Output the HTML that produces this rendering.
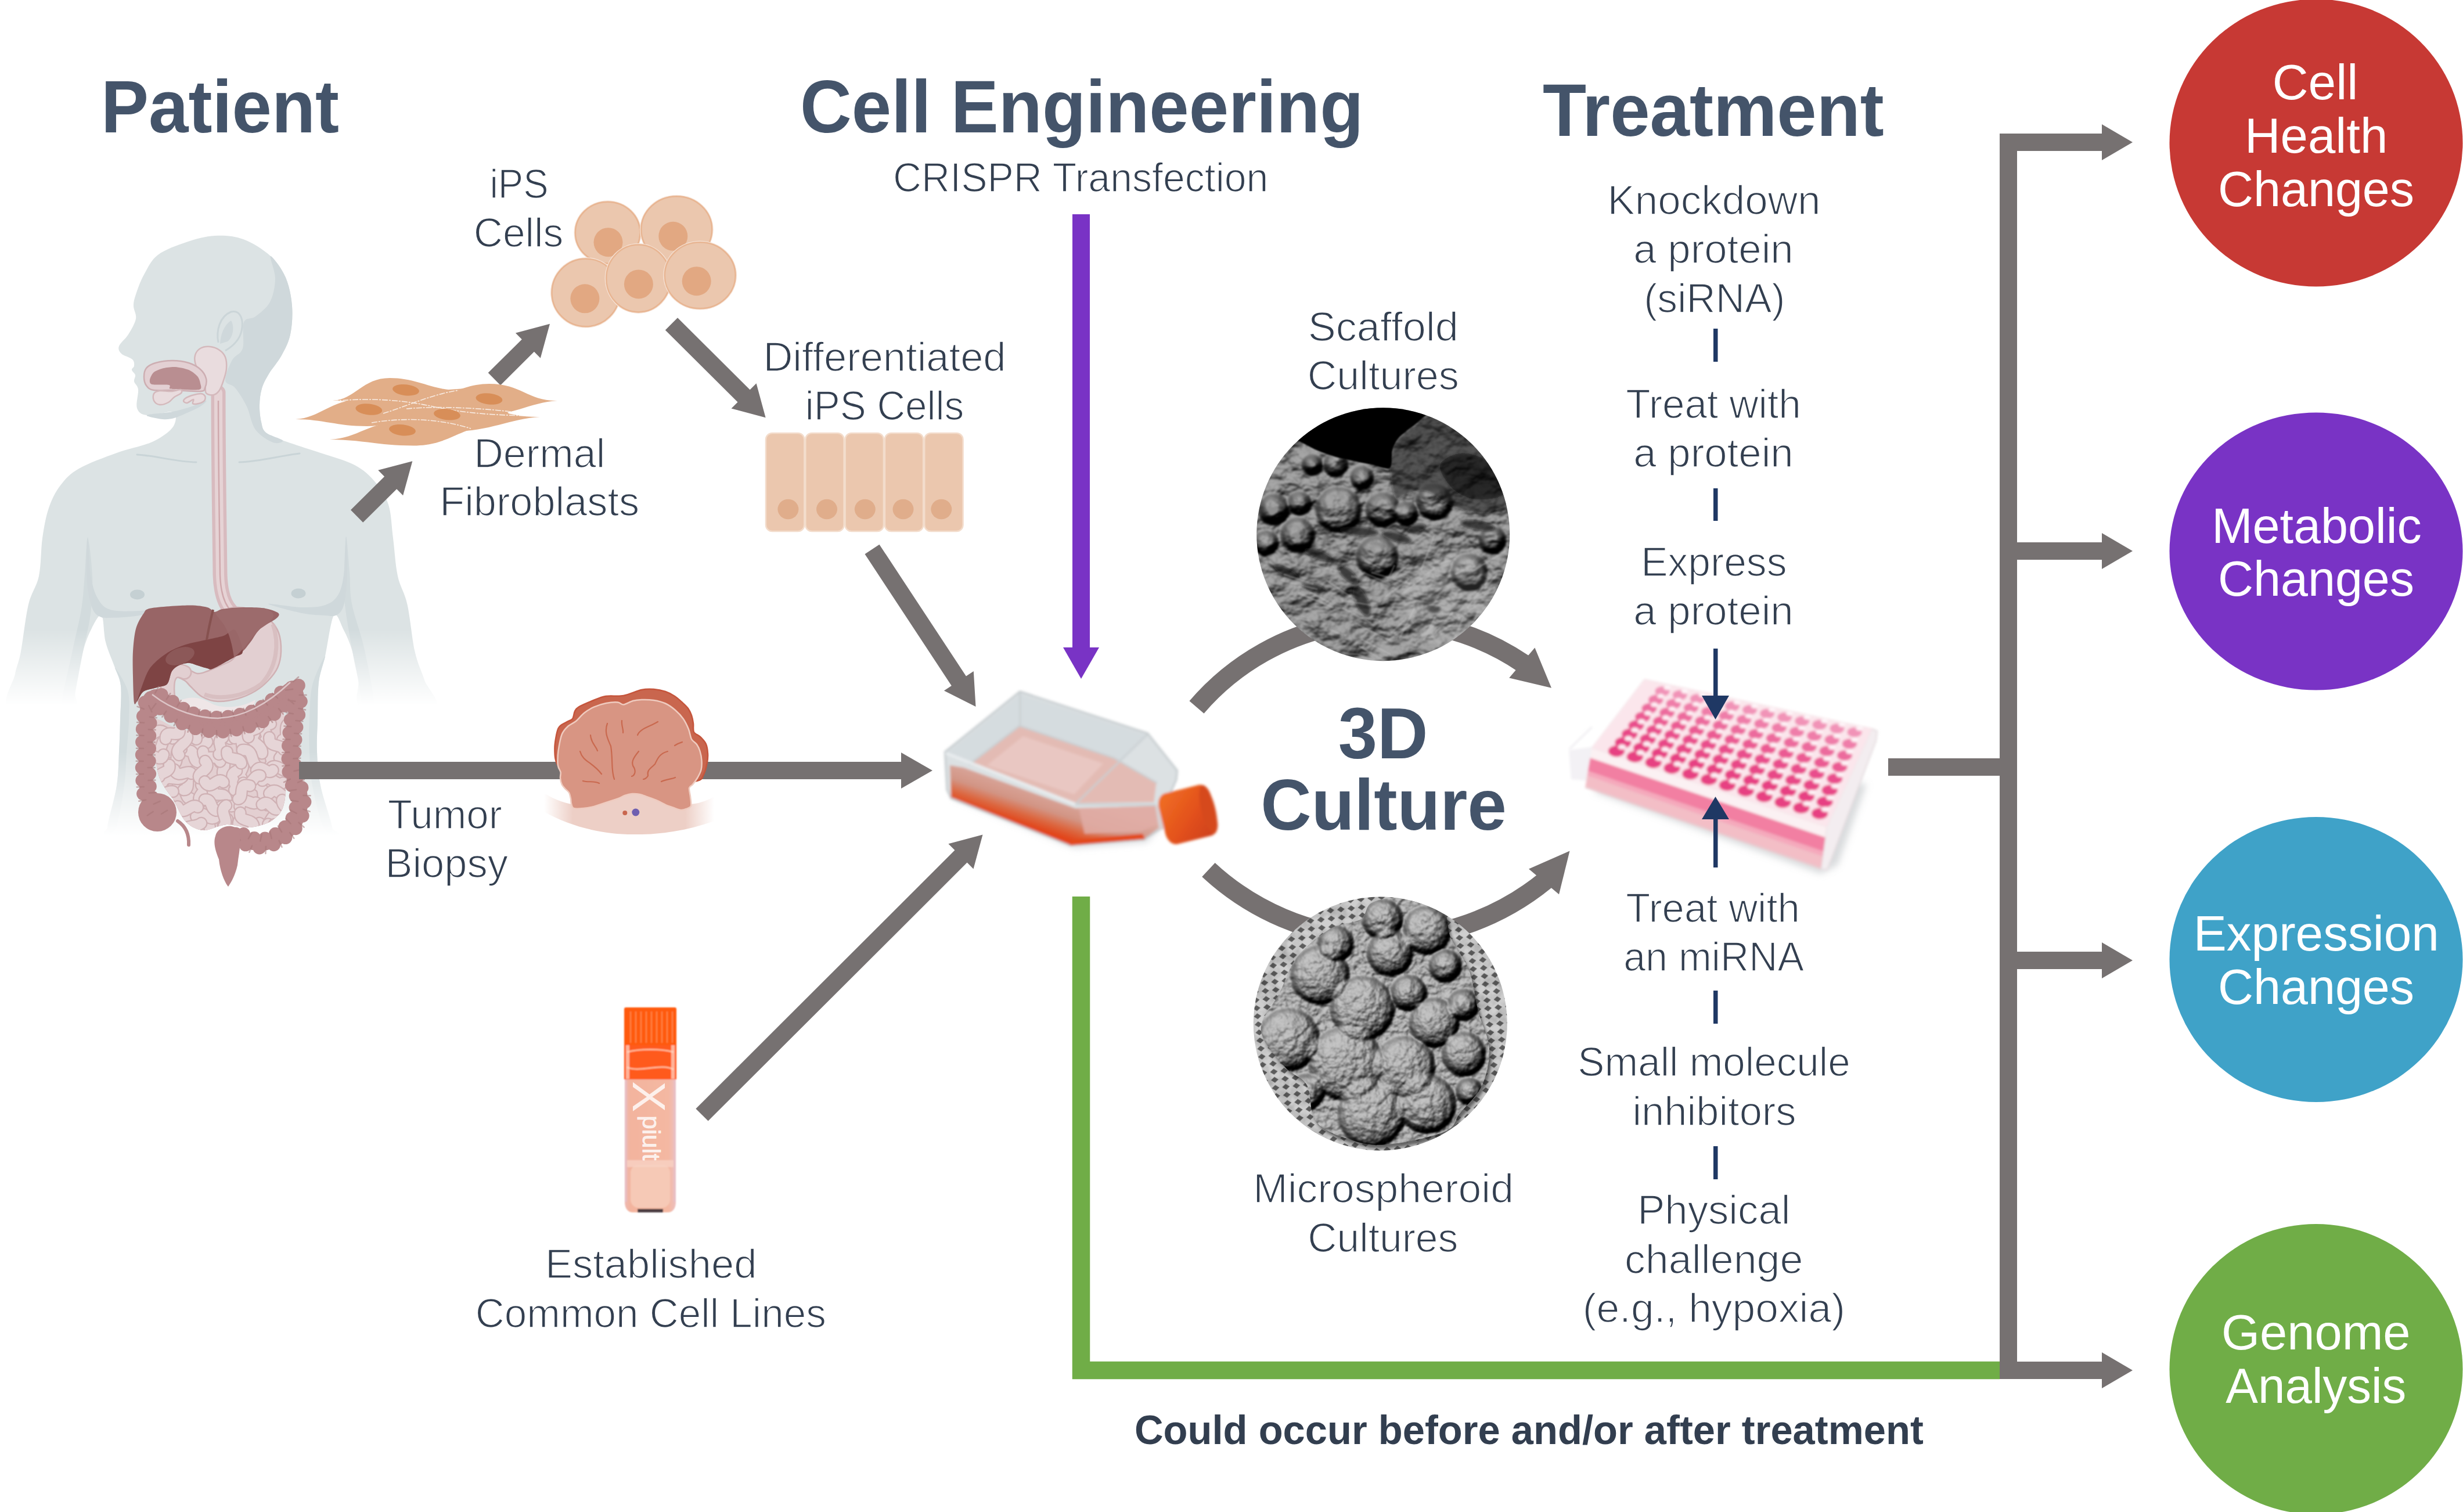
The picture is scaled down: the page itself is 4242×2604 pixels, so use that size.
<!DOCTYPE html>
<html lang="en">
<head>
<meta charset="utf-8">
<title>Patient-derived 3D culture workflow</title>
<style>
html,body{margin:0;padding:0;background:#fff;}
body{width:4242px;height:2604px;overflow:hidden;}
svg{display:block;}
text{font-family:"Liberation Sans",sans-serif;}
.h{font-weight:bold;fill:#44546A;font-size:123px;}
.l{fill:#333F50;font-size:70px;stroke:#fff;stroke-width:1.6px;paint-order:fill stroke;}
.c{fill:#fff;font-size:85px;}
.b{font-weight:bold;fill:#323E4F;font-size:68.7px;}
.g{fill:#767171;}
.n{fill:#1F3864;}
</style>
</head>
<body>
<svg width="4242" height="2604" viewBox="0 0 4242 2604">
<defs>
</defs>
<rect width="4242" height="2604" fill="#fff"/>

<!--BODY-->
<defs>
<linearGradient id="bfA" x1="0" y1="1085" x2="0" y2="1215" gradientUnits="userSpaceOnUse"><stop offset="0" stop-color="#fff"/><stop offset="1" stop-color="#000"/></linearGradient>
<linearGradient id="bfT" x1="0" y1="1295" x2="0" y2="1440" gradientUnits="userSpaceOnUse"><stop offset="0" stop-color="#fff"/><stop offset="1" stop-color="#000"/></linearGradient>
<mask id="bodyMask" maskUnits="userSpaceOnUse" x="0" y="380" width="800" height="1100">
<rect x="0" y="380" width="800" height="706" fill="#fff"/>
<rect x="0" y="1085" width="179" height="140" fill="url(#bfA)"/>
<rect x="583" y="1085" width="217" height="140" fill="url(#bfA)"/>
<rect x="179" y="1085" width="404" height="211" fill="#fff"/>
<rect x="179" y="1295" width="404" height="155" fill="url(#bfT)"/>
</mask>
</defs>
<g mask="url(#bodyMask)">
<path d="M370.0 406.0C353.7 406.8 337.3 411.5 321.0 417.0C304.7 422.5 284.2 429.7 272.0 439.0C259.8 448.3 254.3 461.7 248.0 473.0C241.7 484.3 237.0 498.0 234.0 507.0C231.0 516.0 230.0 520.0 230.0 527.0C230.0 534.0 235.5 540.8 234.0 549.0C232.5 557.2 225.8 568.2 221.0 576.0C216.2 583.8 207.0 590.5 205.0 596.0C203.0 601.5 205.2 605.2 209.0 609.0C212.8 612.8 224.3 615.5 228.0 619.0C231.7 622.5 231.2 627.0 231.0 630.0C230.8 633.0 226.7 634.3 227.0 637.0C227.3 639.7 232.3 642.7 233.0 646.0C233.7 649.3 230.2 652.8 231.0 657.0C231.8 661.2 237.2 663.3 238.0 671.0C238.8 678.7 233.5 695.7 236.0 703.0C238.5 710.3 242.8 714.0 253.0 715.0C263.2 716.0 288.7 708.2 297.0 709.0C305.3 709.8 303.5 714.8 303.0 720.0C302.5 725.2 301.2 733.0 294.0 740.0C286.8 747.0 275.5 755.3 260.0 762.0C244.5 768.7 221.7 772.5 201.0 780.0C180.3 787.5 152.2 797.7 136.0 807.0C119.8 816.3 112.7 824.7 104.0 836.0C95.3 847.3 89.2 859.8 84.0 875.0C78.8 890.2 75.8 907.5 73.0 927.0C70.2 946.5 71.0 973.0 67.0 992.0C63.0 1011.0 54.2 1019.3 49.0 1041.0C43.8 1062.7 39.8 1102.0 36.0 1122.0C32.2 1142.0 29.3 1144.7 26.0 1161.0C22.7 1177.3 -0.3 1210.2 16.0 1220.0C32.3 1229.8 105.0 1225.0 124.0 1220.0C143.0 1215.0 126.8 1206.3 130.0 1190.0C133.2 1173.7 138.3 1140.0 143.0 1122.0C147.7 1104.0 152.7 1092.3 158.0 1082.0C163.3 1071.7 171.0 1056.0 175.0 1060.0C179.0 1064.0 178.2 1091.0 182.0 1106.0C185.8 1121.0 193.7 1137.5 198.0 1150.0C202.3 1162.5 206.5 1166.0 208.0 1181.0C209.5 1196.0 207.5 1221.0 207.0 1240.0C206.5 1259.0 206.0 1276.2 205.0 1295.0C204.0 1313.8 204.3 1331.3 201.0 1353.0C197.7 1374.7 188.3 1409.7 185.0 1425.0C181.7 1440.3 115.8 1441.7 181.0 1445.0C246.2 1448.3 510.8 1448.3 576.0 1445.0C641.2 1441.7 576.0 1440.3 572.0 1425.0C568.0 1409.7 556.3 1374.7 552.0 1353.0C547.7 1331.3 546.8 1313.8 546.0 1295.0C545.2 1276.2 546.5 1260.0 547.0 1240.0C547.5 1220.0 546.8 1193.3 549.0 1175.0C551.2 1156.7 555.7 1149.2 560.0 1130.0C564.3 1110.8 569.7 1067.5 575.0 1060.0C580.3 1052.5 586.7 1074.7 592.0 1085.0C597.3 1095.3 602.8 1107.7 607.0 1122.0C611.2 1136.3 613.8 1154.7 617.0 1171.0C620.2 1187.3 604.3 1211.8 626.0 1220.0C647.7 1228.2 729.5 1228.2 747.0 1220.0C764.5 1211.8 736.4 1187.3 731.0 1171.0C725.6 1154.7 719.4 1143.7 714.5 1122.0C709.6 1100.3 706.4 1062.7 701.5 1041.0C696.6 1019.3 689.1 1011.0 685.0 992.0C680.9 973.0 679.7 947.5 677.0 927.0C674.3 906.5 674.2 885.2 669.0 869.0C663.8 852.8 655.7 841.3 646.0 830.0C636.3 818.7 626.7 809.3 611.0 801.0C595.3 792.7 572.7 787.1 552.0 780.0C531.3 772.9 502.7 764.3 487.0 758.5C471.3 752.7 464.2 750.2 458.0 745.0C451.8 739.8 451.8 734.8 450.0 727.0C448.2 719.2 446.8 707.7 447.0 698.0C447.2 688.3 448.3 678.0 451.0 669.0C453.7 660.0 457.3 653.5 463.0 644.0C468.7 634.5 478.8 623.3 485.0 612.0C491.2 600.7 497.0 590.2 500.0 576.0C503.0 561.8 504.3 543.3 503.0 527.0C501.7 510.7 498.2 492.3 492.0 478.0C485.8 463.7 478.2 452.0 466.0 441.0C453.8 430.0 435.0 417.8 419.0 412.0C403.0 406.2 386.3 405.2 370.0 406.0Z" fill="#DCE3E4"/>
<path d="M466.0 441.0C469.0 440.7 485.8 463.7 492.0 478.0C498.2 492.3 501.7 510.7 503.0 527.0C504.3 543.3 503.0 561.8 500.0 576.0C497.0 590.2 491.2 600.7 485.0 612.0C478.8 623.3 468.7 634.5 463.0 644.0C457.3 653.5 453.7 660.0 451.0 669.0C448.3 678.0 447.2 688.3 447.0 698.0C446.8 707.7 448.2 719.2 450.0 727.0C451.8 734.8 451.8 739.8 458.0 745.0C464.2 750.2 485.0 755.7 487.0 758.5C489.0 761.3 477.8 765.1 470.0 762.0C462.2 758.9 447.5 750.3 440.0 740.0C432.5 729.7 430.8 712.0 425.0 700.0C419.2 688.0 411.2 675.5 405.0 668.0C398.8 660.5 388.8 663.0 388.0 655.0C387.2 647.0 395.0 629.2 400.0 620.0C405.0 610.8 414.7 610.8 418.0 600.0C421.3 589.2 416.3 564.2 420.0 555.0C423.7 545.8 432.5 550.8 440.0 545.0C447.5 539.2 459.3 530.8 465.0 520.0C470.7 509.2 473.8 493.2 474.0 480.0C474.2 466.8 463.0 441.3 466.0 441.0Z" fill="#CFD8DB"/>
<path d="M253.0 715.0C255.8 712.8 284.2 711.5 297.0 709.0C309.8 706.5 320.3 703.2 330.0 700.0C339.7 696.8 352.5 690.0 355.0 690.0C357.5 690.0 350.8 696.3 345.0 700.0C339.2 703.7 327.5 708.7 320.0 712.0C312.5 715.3 306.7 718.3 300.0 720.0C293.3 721.7 287.8 722.8 280.0 722.0C272.2 721.2 250.2 717.2 253.0 715.0Z" fill="#CFD8DB"/>
<path d="M376 590C372 570 378 545 398 537C415 533 420 552 416 570C412 588 398 598 388 604" fill="none" stroke="#CBD5D8" stroke-width="3"/>
<path d="M379 592C380 575 386 560 398 552C404 562 402 580 392 588Z" fill="#CFD8DB"/>
<path d="M236 783C270 785 300 795 338 796" fill="none" stroke="#C9D4D7" stroke-width="3" stroke-linecap="round"/>
<path d="M412 796C450 795 480 785 516 781" fill="none" stroke="#C9D4D7" stroke-width="3" stroke-linecap="round"/>
<path d="M151.0 925.0C152.2 926.7 153.2 972.5 156.0 990.0C158.8 1007.5 162.3 1020.0 168.0 1030.0C173.7 1040.0 178.0 1046.3 190.0 1050.0C202.0 1053.7 223.3 1052.7 240.0 1052.0C256.7 1051.3 290.0 1044.7 290.0 1046.0C290.0 1047.3 256.7 1057.0 240.0 1060.0C223.3 1063.0 201.3 1063.7 190.0 1064.0C178.7 1064.3 177.0 1064.3 172.0 1062.0C167.0 1059.7 163.3 1057.0 160.0 1050.0C156.7 1043.0 153.8 1031.7 152.0 1020.0C150.2 1008.3 149.2 995.8 149.0 980.0C148.8 964.2 149.8 923.3 151.0 925.0Z" fill="#CFD8DB"/>
<path d="M596.0 925.0C595.0 926.7 594.3 973.3 592.0 990.0C589.7 1006.7 587.3 1016.3 582.0 1025.0C576.7 1033.7 570.3 1038.5 560.0 1042.0C549.7 1045.5 536.3 1046.3 520.0 1046.0C503.7 1045.7 462.0 1038.3 462.0 1040.0C462.0 1041.7 503.7 1052.7 520.0 1056.0C536.3 1059.3 550.3 1059.3 560.0 1060.0C569.7 1060.7 573.0 1062.0 578.0 1060.0C583.0 1058.0 587.0 1054.7 590.0 1048.0C593.0 1041.3 594.7 1031.3 596.0 1020.0C597.3 1008.7 598.0 995.8 598.0 980.0C598.0 964.2 597.0 923.3 596.0 925.0Z" fill="#CFD8DB"/>
<path d="M151.0 927.0C153.2 927.3 158.2 970.3 159.0 992.0C159.8 1013.7 158.7 1035.3 156.0 1057.0C153.3 1078.7 147.3 1099.8 143.0 1122.0C138.7 1144.2 133.2 1173.7 130.0 1190.0C126.8 1206.3 128.2 1215.0 124.0 1220.0C119.8 1225.0 104.8 1236.7 105.0 1220.0C105.2 1203.3 119.2 1148.3 125.0 1120.0C130.8 1091.7 136.5 1071.7 140.0 1050.0C143.5 1028.3 144.2 1010.5 146.0 990.0C147.8 969.5 148.8 926.7 151.0 927.0Z" fill="#CFD8DB" opacity="0.8"/>
<path d="M596.0 924.0C594.5 925.2 593.3 972.5 593.0 992.0C592.7 1011.5 591.7 1019.3 594.0 1041.0C596.3 1062.7 603.2 1100.3 607.0 1122.0C610.8 1143.7 613.8 1154.7 617.0 1171.0C620.2 1187.3 621.3 1211.8 626.0 1220.0C630.7 1228.2 644.7 1236.7 645.0 1220.0C645.3 1203.3 634.5 1150.0 628.0 1120.0C621.5 1090.0 610.3 1062.5 606.0 1040.0C601.7 1017.5 603.7 1004.3 602.0 985.0C600.3 965.7 597.5 922.8 596.0 924.0Z" fill="#CFD8DB" opacity="0.8"/>
<path d="M198.0 1150.0C196.0 1148.5 206.5 1166.0 208.0 1181.0C209.5 1196.0 207.5 1221.0 207.0 1240.0C206.5 1259.0 206.0 1276.2 205.0 1295.0C204.0 1313.8 204.3 1331.3 201.0 1353.0C197.7 1374.7 185.2 1413.0 185.0 1425.0C184.8 1437.0 195.2 1437.0 200.0 1425.0C204.8 1413.0 211.0 1374.7 214.0 1353.0C217.0 1331.3 216.7 1313.8 218.0 1295.0C219.3 1276.2 221.7 1257.5 222.0 1240.0C222.3 1222.5 224.0 1205.0 220.0 1190.0C216.0 1175.0 200.0 1151.5 198.0 1150.0Z" fill="#CFD8DB" opacity="0.7"/>
<path d="M560.0 1130.0C561.8 1129.2 551.2 1156.7 549.0 1175.0C546.8 1193.3 547.5 1220.0 547.0 1240.0C546.5 1260.0 545.2 1276.2 546.0 1295.0C546.8 1313.8 547.7 1331.3 552.0 1353.0C556.3 1374.7 571.2 1413.0 572.0 1425.0C572.8 1437.0 562.7 1437.0 557.0 1425.0C551.3 1413.0 542.0 1374.7 538.0 1353.0C534.0 1331.3 533.8 1313.8 533.0 1295.0C532.2 1276.2 532.2 1259.2 533.0 1240.0C533.8 1220.8 533.5 1198.3 538.0 1180.0C542.5 1161.7 558.2 1130.8 560.0 1130.0Z" fill="#CFD8DB" opacity="0.7"/>
<ellipse cx="236.5" cy="1024" rx="12.5" ry="8.5" fill="#C5D0D3"/>
<ellipse cx="514" cy="1022" rx="12.5" ry="8.5" fill="#C5D0D3"/>
</g>
<path d="M376 676C376 800 378 900 379 990C380 1020 386 1040 398 1052" fill="none" stroke="#D8BBBF" stroke-width="25" stroke-linecap="round"/>
<path d="M376 676C376 800 378 900 379 990C380 1020 386 1040 398 1052" fill="none" stroke="#E6D3D5" stroke-width="14" stroke-linecap="round"/>
<path d="M376 690C376 800 378 900 379 990C380 1020 386 1040 398 1052" fill="none" stroke="#CFA9AD" stroke-width="2.5"/>
<path d="M336.0 612.0C337.3 607.3 340.7 602.5 345.0 600.0C349.3 597.5 356.5 596.5 362.0 597.0C367.5 597.5 373.7 600.0 378.0 603.0C382.3 606.0 386.0 609.7 388.0 615.0C390.0 620.3 390.5 628.3 390.0 635.0C389.5 641.7 387.0 648.8 385.0 655.0C383.0 661.2 380.8 667.8 378.0 672.0C375.2 676.2 371.8 679.2 368.0 680.0C364.2 680.8 357.5 680.3 355.0 677.0C352.5 673.7 354.7 666.2 353.0 660.0C351.3 653.8 347.7 645.3 345.0 640.0C342.3 634.7 338.5 632.7 337.0 628.0C335.5 623.3 334.7 616.7 336.0 612.0Z" fill="#E9DCDE" stroke="#D4B9BC" stroke-width="2.5"/>
<path d="M248.0 649.0C248.0 644.0 248.7 638.0 252.0 634.0C255.3 630.0 260.5 627.2 268.0 625.0C275.5 622.8 287.5 621.0 297.0 621.0C306.5 621.0 317.0 622.5 325.0 625.0C333.0 627.5 340.0 631.5 345.0 636.0C350.0 640.5 353.7 646.7 355.0 652.0C356.3 657.3 354.7 664.3 353.0 668.0C351.3 671.7 353.8 673.3 345.0 674.0C336.2 674.7 313.3 672.3 300.0 672.0C286.7 671.7 273.0 673.3 265.0 672.0C257.0 670.7 254.8 667.8 252.0 664.0C249.2 660.2 248.0 654.0 248.0 649.0Z" fill="#E3D0D3" stroke="#CDAEB2" stroke-width="2.5"/>
<path d="M258.0 654.0C258.4 651.2 261.8 643.7 265.0 641.0C268.2 638.3 277.1 635.2 282.0 634.0C286.9 632.8 296.3 631.6 302.0 632.0C307.7 632.4 319.9 634.9 325.0 637.0C330.1 639.1 337.3 644.9 340.0 648.0C342.7 651.1 344.6 656.9 345.0 660.0C345.4 663.1 349.0 669.7 343.0 671.0C337.0 672.3 306.8 670.3 300.0 670.0C293.2 669.7 293.2 669.9 292.0 669.0C290.8 668.1 295.0 663.9 291.0 663.0C287.0 662.1 266.4 663.2 262.0 662.0C257.6 660.8 257.6 656.8 258.0 654.0Z" fill="#B98E91"/>
<path d="M265.0 678.0C266.7 675.2 270.0 673.7 275.0 673.0C280.0 672.3 289.0 674.3 295.0 674.0C301.0 673.7 308.2 670.5 311.0 671.0C313.8 671.5 313.8 674.8 312.0 677.0C310.2 679.2 303.7 681.3 300.0 684.0C296.3 686.7 294.2 690.8 290.0 693.0C285.8 695.2 279.2 697.5 275.0 697.0C270.8 696.5 266.7 693.2 265.0 690.0C263.3 686.8 263.3 680.8 265.0 678.0Z" fill="#E9DCDE" stroke="#D4B9BC" stroke-width="2.5"/>
<path d="M316.0 690.0C316.5 688.2 320.2 685.0 325.0 683.0C329.8 681.0 340.3 678.2 345.0 678.0C349.7 677.8 351.8 680.0 353.0 682.0C354.2 684.0 353.8 687.8 352.0 690.0C350.2 692.2 345.3 694.2 342.0 695.0C338.7 695.8 333.5 696.2 332.0 695.0C330.5 693.8 334.7 688.2 333.0 688.0C331.3 687.8 324.8 693.7 322.0 694.0C319.2 694.3 315.5 691.8 316.0 690.0Z" fill="#E9DCDE" stroke="#D4B9BC" stroke-width="2.5"/>
<path d="M392.0 1050.0C394.3 1046.0 402.0 1045.7 410.0 1046.0C418.0 1046.3 430.8 1048.3 440.0 1052.0C449.2 1055.7 458.3 1061.7 465.0 1068.0C471.7 1074.3 476.8 1081.0 480.0 1090.0C483.2 1099.0 484.3 1112.0 484.0 1122.0C483.7 1132.0 481.7 1141.7 478.0 1150.0C474.3 1158.3 468.3 1165.3 462.0 1172.0C455.7 1178.7 448.7 1184.8 440.0 1190.0C431.3 1195.2 420.8 1200.0 410.0 1203.0C399.2 1206.0 385.3 1208.5 375.0 1208.0C364.7 1207.5 355.8 1204.3 348.0 1200.0C340.2 1195.7 333.0 1186.7 328.0 1182.0C323.0 1177.3 322.7 1174.8 318.0 1172.0C313.3 1169.2 304.3 1165.3 300.0 1165.0C295.7 1164.7 294.0 1165.0 292.0 1170.0C290.0 1175.0 287.3 1187.0 288.0 1195.0C288.7 1203.0 297.0 1214.2 296.0 1218.0C295.0 1221.8 285.3 1222.7 282.0 1218.0C278.7 1213.3 276.0 1199.7 276.0 1190.0C276.0 1180.3 278.0 1167.0 282.0 1160.0C286.0 1153.0 293.3 1149.3 300.0 1148.0C306.7 1146.7 315.3 1150.0 322.0 1152.0C328.7 1154.0 334.2 1159.3 340.0 1160.0C345.8 1160.7 350.3 1158.3 357.0 1156.0C363.7 1153.7 372.8 1149.3 380.0 1146.0C387.2 1142.7 395.0 1140.7 400.0 1136.0C405.0 1131.3 409.2 1125.7 410.0 1118.0C410.8 1110.3 407.3 1098.0 405.0 1090.0C402.7 1082.0 398.2 1076.7 396.0 1070.0C393.8 1063.3 389.7 1054.0 392.0 1050.0Z" fill="#E2CFD1" stroke="#D0B1B4" stroke-width="2.5"/>
<path d="M470 1075C482 1110 476 1150 450 1178C420 1200 380 1206 352 1196" fill="none" stroke="#D6BABD" stroke-width="7" opacity="0.8"/>
<path d="M300 1215C320 1195 345 1200 365 1212C385 1222 420 1218 440 1205L430 1240L310 1245Z" fill="#EFE6E7"/>
<path d="M318 1158C300 1150 290 1160 289 1180C288 1200 292 1215 300 1225" fill="none" stroke="#D3B5B8" stroke-width="25" stroke-linecap="round"/>
<path d="M318 1158C300 1150 290 1160 289 1180C288 1200 292 1215 300 1225" fill="none" stroke="#E2CFD1" stroke-width="20" stroke-linecap="round"/>
<path d="M247.0 1057.0C250.9 1051.7 248.3 1049.7 260.0 1047.5C271.7 1045.3 310.4 1042.8 325.0 1042.6C339.6 1042.4 350.2 1044.3 357.0 1046.0C363.8 1047.7 366.1 1053.5 370.0 1054.0C373.9 1054.5 375.5 1050.2 383.0 1049.0C390.5 1047.8 409.2 1046.2 420.0 1046.0C430.8 1045.8 446.1 1046.1 455.0 1047.5C463.9 1048.9 475.9 1053.0 479.0 1055.6C482.1 1058.2 480.6 1060.9 476.0 1065.0C471.4 1069.1 454.6 1077.0 448.0 1083.0C441.4 1089.0 436.5 1099.2 432.0 1105.0C427.5 1110.8 422.4 1118.0 418.0 1122.0C413.6 1126.0 410.6 1127.6 403.0 1132.0C395.4 1136.4 373.9 1148.7 367.0 1151.5C360.1 1154.3 361.1 1151.8 357.0 1151.0C352.9 1150.2 344.8 1147.4 340.0 1146.0C335.2 1144.6 329.8 1141.7 325.0 1141.7C320.2 1141.7 312.4 1143.9 308.0 1146.0C303.6 1148.1 299.0 1151.2 296.0 1156.0C293.0 1160.8 291.9 1173.8 288.0 1178.0C284.1 1182.2 276.1 1182.0 270.0 1184.0C263.9 1186.0 252.1 1187.4 247.0 1191.0C241.9 1194.6 238.4 1205.2 236.0 1208.0C233.6 1210.8 232.1 1216.5 231.0 1210.0C229.9 1203.5 229.3 1178.2 229.0 1165.0C228.7 1151.8 228.2 1134.3 229.0 1122.0C229.8 1109.7 231.3 1092.8 234.0 1083.0C236.7 1073.2 243.1 1062.3 247.0 1057.0Z" fill="#986566"/>
<path d="M236.0 1208.0C235.1 1212.7 241.9 1194.6 247.0 1191.0C252.1 1187.4 263.9 1186.0 270.0 1184.0C276.1 1182.0 284.1 1182.2 288.0 1178.0C291.9 1173.8 293.0 1160.8 296.0 1156.0C299.0 1151.2 303.6 1148.1 308.0 1146.0C312.4 1143.9 320.2 1141.7 325.0 1141.7C329.8 1141.7 335.2 1144.6 340.0 1146.0C344.8 1147.4 352.9 1150.2 357.0 1151.0C361.1 1151.8 360.1 1154.3 367.0 1151.5C373.9 1148.7 395.4 1136.4 403.0 1132.0C410.6 1127.6 417.7 1129.0 418.0 1122.0C418.3 1115.0 409.9 1089.0 405.0 1085.0C400.1 1081.0 392.5 1092.5 385.0 1095.0C377.5 1097.5 364.8 1099.8 355.0 1102.0C345.2 1104.2 329.4 1107.0 320.0 1110.0C310.6 1113.0 299.8 1117.5 292.0 1122.0C284.2 1126.5 273.9 1134.3 268.0 1140.0C262.1 1145.7 257.8 1149.8 253.0 1160.0C248.2 1170.2 236.9 1203.3 236.0 1208.0Z" fill="#7E4444"/>
<path d="M370 1054C383 1049 420 1046 455 1047.5C479 1055.6 476 1065 448 1083C430 1100 420 1120 403 1132C400 1110 395 1090 385 1075C378 1065 372 1060 370 1054Z" fill="#9C6B6D" opacity="0.9"/>
<path d="M367 1050C362 1070 358 1090 356 1102" fill="none" stroke="#86514F" stroke-width="4"/>
<ellipse cx="310" cy="1130" rx="26" ry="14" transform="rotate(-20 310 1130)" fill="#8C5858"/>
<path d="M266.0 1240.0C271.7 1233.7 287.7 1248.3 300.0 1252.0C312.3 1255.7 326.7 1259.7 340.0 1262.0C353.3 1264.3 366.7 1266.3 380.0 1266.0C393.3 1265.7 407.5 1263.0 420.0 1260.0C432.5 1257.0 443.8 1253.8 455.0 1248.0C466.2 1242.2 480.8 1216.3 487.0 1225.0C493.2 1233.7 491.5 1274.2 492.0 1300.0C492.5 1325.8 493.7 1361.3 490.0 1380.0C486.3 1398.7 480.0 1404.5 470.0 1412.0C460.0 1419.5 443.3 1423.7 430.0 1425.0C416.7 1426.3 403.3 1419.2 390.0 1420.0C376.7 1420.8 361.7 1430.8 350.0 1430.0C338.3 1429.2 328.3 1423.3 320.0 1415.0C311.7 1406.7 307.5 1392.5 300.0 1380.0C292.5 1367.5 280.7 1355.0 275.0 1340.0C269.3 1325.0 267.5 1306.7 266.0 1290.0C264.5 1273.3 260.3 1246.3 266.0 1240.0Z" fill="#E3CFD1"/>
<clipPath id="siClip"><path d="M266.0 1240.0C271.7 1233.7 287.7 1248.3 300.0 1252.0C312.3 1255.7 326.7 1259.7 340.0 1262.0C353.3 1264.3 366.7 1266.3 380.0 1266.0C393.3 1265.7 407.5 1263.0 420.0 1260.0C432.5 1257.0 443.8 1253.8 455.0 1248.0C466.2 1242.2 480.8 1216.3 487.0 1225.0C493.2 1233.7 491.5 1274.2 492.0 1300.0C492.5 1325.8 493.7 1361.3 490.0 1380.0C486.3 1398.7 480.0 1404.5 470.0 1412.0C460.0 1419.5 443.3 1423.7 430.0 1425.0C416.7 1426.3 403.3 1419.2 390.0 1420.0C376.7 1420.8 361.7 1430.8 350.0 1430.0C338.3 1429.2 328.3 1423.3 320.0 1415.0C311.7 1406.7 307.5 1392.5 300.0 1380.0C292.5 1367.5 280.7 1355.0 275.0 1340.0C269.3 1325.0 267.5 1306.7 266.0 1290.0C264.5 1273.3 260.3 1246.3 266.0 1240.0Z"/></clipPath>
<g clip-path="url(#siClip)" fill="none" stroke-linecap="round" stroke-linejoin="round">
<path d="M354.7 1245.8C375.2 1245.1 350.0 1272.2 370.5 1271.5" stroke="#CFB1B4" stroke-width="22"/><path d="M354.7 1245.8C375.2 1245.1 350.0 1272.2 370.5 1271.5" stroke="#E6D5D7" stroke-width="17.5"/>
<path d="M444.3 1352.2C460.0 1358.8 447.5 1379.1 460.1 1386.4" stroke="#CFB1B4" stroke-width="22"/><path d="M444.3 1352.2C460.0 1358.8 447.5 1379.1 460.1 1386.4" stroke="#E6D5D7" stroke-width="17.5"/>
<path d="M264.5 1396.2C286.4 1388.3 265.5 1420.5 287.1 1417.8" stroke="#CFB1B4" stroke-width="22"/><path d="M264.5 1396.2C286.4 1388.3 265.5 1420.5 287.1 1417.8" stroke="#E6D5D7" stroke-width="17.5"/>
<path d="M350.8 1411.2C367.9 1415.8 355.9 1435.6 368.4 1443.3" stroke="#CFB1B4" stroke-width="22"/><path d="M350.8 1411.2C367.9 1415.8 355.9 1435.6 368.4 1443.3" stroke="#E6D5D7" stroke-width="17.5"/>
<path d="M297.5 1271.6C273.7 1262.7 283.0 1296.5 268.1 1295.8" stroke="#CFB1B4" stroke-width="22"/><path d="M297.5 1271.6C273.7 1262.7 283.0 1296.5 268.1 1295.8" stroke="#E6D5D7" stroke-width="17.5"/>
<path d="M466.2 1246.8C443.1 1249.9 467.9 1267.9 456.8 1275.7" stroke="#CFB1B4" stroke-width="22"/><path d="M466.2 1246.8C443.1 1249.9 467.9 1267.9 456.8 1275.7" stroke="#E6D5D7" stroke-width="17.5"/>
<path d="M414.6 1313.7C427.1 1321.8 405.4 1331.4 415.8 1339.8" stroke="#CFB1B4" stroke-width="22"/><path d="M414.6 1313.7C427.1 1321.8 405.4 1331.4 415.8 1339.8" stroke="#E6D5D7" stroke-width="17.5"/>
<path d="M473.9 1291.8C456.4 1296.0 474.7 1313.3 465.0 1318.7" stroke="#CFB1B4" stroke-width="22"/><path d="M473.9 1291.8C456.4 1296.0 474.7 1313.3 465.0 1318.7" stroke="#E6D5D7" stroke-width="17.5"/>
<path d="M334.0 1290.5C335.8 1276.2 354.2 1284.9 356.7 1277.4" stroke="#CFB1B4" stroke-width="22"/><path d="M334.0 1290.5C335.8 1276.2 354.2 1284.9 356.7 1277.4" stroke="#E6D5D7" stroke-width="17.5"/>
<path d="M411.8 1413.1C403.7 1434.5 435.0 1427.8 434.0 1443.6" stroke="#CFB1B4" stroke-width="22"/><path d="M411.8 1413.1C403.7 1434.5 435.0 1427.8 434.0 1443.6" stroke="#E6D5D7" stroke-width="17.5"/>
<path d="M249.4 1436.0C263.2 1453.0 269.9 1421.6 282.5 1431.2" stroke="#CFB1B4" stroke-width="22"/><path d="M249.4 1436.0C263.2 1453.0 269.9 1421.6 282.5 1431.2" stroke="#E6D5D7" stroke-width="17.5"/>
<path d="M305.7 1356.0C322.4 1351.6 317.8 1377.2 327.8 1375.1" stroke="#CFB1B4" stroke-width="22"/><path d="M305.7 1356.0C322.4 1351.6 317.8 1377.2 327.8 1375.1" stroke="#E6D5D7" stroke-width="17.5"/>
<path d="M406.9 1245.0C421.2 1261.0 394.7 1260.1 396.3 1272.2" stroke="#CFB1B4" stroke-width="22"/><path d="M406.9 1245.0C421.2 1261.0 394.7 1260.1 396.3 1272.2" stroke="#E6D5D7" stroke-width="17.5"/>
<path d="M378.8 1312.7C398.5 1312.6 371.8 1334.5 390.9 1336.4" stroke="#CFB1B4" stroke-width="22"/><path d="M378.8 1312.7C398.5 1312.6 371.8 1334.5 390.9 1336.4" stroke="#E6D5D7" stroke-width="17.5"/>
<path d="M346.7 1352.1C361.1 1362.0 333.9 1371.1 346.2 1380.9" stroke="#CFB1B4" stroke-width="22"/><path d="M346.7 1352.1C361.1 1362.0 333.9 1371.1 346.2 1380.9" stroke="#E6D5D7" stroke-width="17.5"/>
<path d="M366.7 1358.5C364.0 1377.9 386.1 1359.6 389.8 1376.2" stroke="#CFB1B4" stroke-width="22"/><path d="M366.7 1358.5C364.0 1377.9 386.1 1359.6 389.8 1376.2" stroke="#E6D5D7" stroke-width="17.5"/>
<path d="M481.6 1305.5C492.3 1287.0 508.1 1307.5 520.1 1300.7" stroke="#CFB1B4" stroke-width="22"/><path d="M481.6 1305.5C492.3 1287.0 508.1 1307.5 520.1 1300.7" stroke="#E6D5D7" stroke-width="17.5"/>
<path d="M247.6 1336.9C250.3 1360.6 277.1 1333.9 279.9 1350.5" stroke="#CFB1B4" stroke-width="22"/><path d="M247.6 1336.9C250.3 1360.6 277.1 1333.9 279.9 1350.5" stroke="#E6D5D7" stroke-width="17.5"/>
<path d="M318.7 1245.9C314.6 1262.4 340.2 1260.6 338.0 1273.1" stroke="#CFB1B4" stroke-width="22"/><path d="M318.7 1245.9C314.6 1262.4 340.2 1260.6 338.0 1273.1" stroke="#E6D5D7" stroke-width="17.5"/>
<path d="M438.1 1264.0C426.9 1281.3 453.5 1280.8 451.3 1297.6" stroke="#CFB1B4" stroke-width="22"/><path d="M438.1 1264.0C426.9 1281.3 453.5 1280.8 451.3 1297.6" stroke="#E6D5D7" stroke-width="17.5"/>
<path d="M446.6 1417.5C467.9 1431.1 463.3 1400.2 481.6 1400.0" stroke="#CFB1B4" stroke-width="22"/><path d="M446.6 1417.5C467.9 1431.1 463.3 1400.2 481.6 1400.0" stroke="#E6D5D7" stroke-width="17.5"/>
<path d="M335.8 1328.9C312.7 1329.1 332.2 1360.2 316.1 1360.5" stroke="#CFB1B4" stroke-width="22"/><path d="M335.8 1328.9C312.7 1329.1 332.2 1360.2 316.1 1360.5" stroke="#E6D5D7" stroke-width="17.5"/>
<path d="M253.2 1378.6C247.3 1396.7 269.7 1387.9 271.7 1397.6" stroke="#CFB1B4" stroke-width="22"/><path d="M253.2 1378.6C247.3 1396.7 269.7 1387.9 271.7 1397.6" stroke="#E6D5D7" stroke-width="17.5"/>
<path d="M279.1 1348.7C286.3 1330.2 307.1 1349.2 315.1 1336.6" stroke="#CFB1B4" stroke-width="22"/><path d="M279.1 1348.7C286.3 1330.2 307.1 1349.2 315.1 1336.6" stroke="#E6D5D7" stroke-width="17.5"/>
<path d="M304.6 1407.7C310.8 1420.2 323.4 1402.2 330.9 1414.4" stroke="#CFB1B4" stroke-width="22"/><path d="M304.6 1407.7C310.8 1420.2 323.4 1402.2 330.9 1414.4" stroke="#E6D5D7" stroke-width="17.5"/>
<path d="M323.9 1292.9C338.3 1291.7 329.9 1313.0 343.6 1312.6" stroke="#CFB1B4" stroke-width="22"/><path d="M323.9 1292.9C338.3 1291.7 329.9 1313.0 343.6 1312.6" stroke="#E6D5D7" stroke-width="17.5"/>
<path d="M377.3 1394.2C383.5 1379.9 397.5 1393.8 406.0 1385.7" stroke="#CFB1B4" stroke-width="22"/><path d="M377.3 1394.2C383.5 1379.9 397.5 1393.8 406.0 1385.7" stroke="#E6D5D7" stroke-width="17.5"/>
<path d="M290.9 1315.0C314.7 1321.0 295.7 1291.3 312.2 1290.1" stroke="#CFB1B4" stroke-width="22"/><path d="M290.9 1315.0C314.7 1321.0 295.7 1291.3 312.2 1290.1" stroke="#E6D5D7" stroke-width="17.5"/>
<path d="M504.1 1245.0C482.2 1245.1 501.2 1269.2 486.8 1274.1" stroke="#CFB1B4" stroke-width="22"/><path d="M504.1 1245.0C482.2 1245.1 501.2 1269.2 486.8 1274.1" stroke="#E6D5D7" stroke-width="17.5"/>
<path d="M242.3 1263.7C256.7 1279.6 267.0 1251.6 281.1 1260.4" stroke="#CFB1B4" stroke-width="22"/><path d="M242.3 1263.7C256.7 1279.6 267.0 1251.6 281.1 1260.4" stroke="#E6D5D7" stroke-width="17.5"/>
<path d="M283.8 1370.6C275.8 1390.7 309.5 1385.1 304.2 1399.5" stroke="#CFB1B4" stroke-width="22"/><path d="M283.8 1370.6C275.8 1390.7 309.5 1385.1 304.2 1399.5" stroke="#E6D5D7" stroke-width="17.5"/>
<path d="M349.7 1294.6C351.0 1314.9 371.5 1295.4 379.1 1311.6" stroke="#CFB1B4" stroke-width="22"/><path d="M349.7 1294.6C351.0 1314.9 371.5 1295.4 379.1 1311.6" stroke="#E6D5D7" stroke-width="17.5"/>
<path d="M496.5 1392.7C512.4 1400.3 489.3 1410.9 498.6 1419.3" stroke="#CFB1B4" stroke-width="22"/><path d="M496.5 1392.7C512.4 1400.3 489.3 1410.9 498.6 1419.3" stroke="#E6D5D7" stroke-width="17.5"/>
<path d="M280.4 1431.6C290.1 1450.1 300.5 1417.1 310.3 1432.0" stroke="#CFB1B4" stroke-width="22"/><path d="M280.4 1431.6C290.1 1450.1 300.5 1417.1 310.3 1432.0" stroke="#E6D5D7" stroke-width="17.5"/>
<path d="M391.2 1410.5C371.5 1423.4 402.5 1435.8 391.6 1448.7" stroke="#CFB1B4" stroke-width="22"/><path d="M391.2 1410.5C371.5 1423.4 402.5 1435.8 391.6 1448.7" stroke="#E6D5D7" stroke-width="17.5"/>
<path d="M383.7 1270.6C369.9 1277.4 388.0 1290.9 377.1 1299.0" stroke="#CFB1B4" stroke-width="22"/><path d="M383.7 1270.6C369.9 1277.4 388.0 1290.9 377.1 1299.0" stroke="#E6D5D7" stroke-width="17.5"/>
<path d="M461.9 1419.3C470.5 1437.7 438.4 1431.0 444.9 1440.5" stroke="#CFB1B4" stroke-width="22"/><path d="M461.9 1419.3C470.5 1437.7 438.4 1431.0 444.9 1440.5" stroke="#E6D5D7" stroke-width="17.5"/>
<path d="M318.6 1261.8C333.9 1279.5 295.7 1285.0 308.5 1300.3" stroke="#CFB1B4" stroke-width="22"/><path d="M318.6 1261.8C333.9 1279.5 295.7 1285.0 308.5 1300.3" stroke="#E6D5D7" stroke-width="17.5"/>
<path d="M407.5 1327.6C388.3 1336.6 413.0 1350.2 403.8 1360.5" stroke="#CFB1B4" stroke-width="22"/><path d="M407.5 1327.6C388.3 1336.6 413.0 1350.2 403.8 1360.5" stroke="#E6D5D7" stroke-width="17.5"/>
<path d="M337.8 1406.1C349.6 1392.1 358.5 1414.0 369.7 1408.5" stroke="#CFB1B4" stroke-width="22"/><path d="M337.8 1406.1C349.6 1392.1 358.5 1414.0 369.7 1408.5" stroke="#E6D5D7" stroke-width="17.5"/>
<path d="M352.5 1377.2C366.7 1375.5 360.7 1392.5 372.3 1396.0" stroke="#CFB1B4" stroke-width="22"/><path d="M352.5 1377.2C366.7 1375.5 360.7 1392.5 372.3 1396.0" stroke="#E6D5D7" stroke-width="17.5"/>
<path d="M452.0 1344.3C465.5 1330.8 474.9 1355.6 487.4 1348.3" stroke="#CFB1B4" stroke-width="22"/><path d="M452.0 1344.3C465.5 1330.8 474.9 1355.6 487.4 1348.3" stroke="#E6D5D7" stroke-width="17.5"/>
<path d="M404.0 1271.1C424.0 1264.7 411.1 1295.5 422.9 1291.0" stroke="#CFB1B4" stroke-width="22"/><path d="M404.0 1271.1C424.0 1264.7 411.1 1295.5 422.9 1291.0" stroke="#E6D5D7" stroke-width="17.5"/>
<path d="M300.2 1325.4C306.6 1342.8 323.0 1323.6 329.8 1332.3" stroke="#CFB1B4" stroke-width="22"/><path d="M300.2 1325.4C306.6 1342.8 323.0 1323.6 329.8 1332.3" stroke="#E6D5D7" stroke-width="17.5"/>
<path d="M259.6 1367.8C273.9 1378.5 283.8 1361.1 298.0 1363.2" stroke="#CFB1B4" stroke-width="22"/><path d="M259.6 1367.8C273.9 1378.5 283.8 1361.1 298.0 1363.2" stroke="#E6D5D7" stroke-width="17.5"/>
<path d="M389.4 1387.2C375.2 1397.7 395.8 1411.8 385.5 1423.0" stroke="#CFB1B4" stroke-width="22"/><path d="M389.4 1387.2C375.2 1397.7 395.8 1411.8 385.5 1423.0" stroke="#E6D5D7" stroke-width="17.5"/>
<path d="M463.9 1366.3C478.5 1350.4 487.3 1382.5 501.1 1371.0" stroke="#CFB1B4" stroke-width="22"/><path d="M463.9 1366.3C478.5 1350.4 487.3 1382.5 501.1 1371.0" stroke="#E6D5D7" stroke-width="17.5"/>
<path d="M412.8 1388.8C417.6 1367.5 434.0 1388.3 440.6 1382.2" stroke="#CFB1B4" stroke-width="22"/><path d="M412.8 1388.8C417.6 1367.5 434.0 1388.3 440.6 1382.2" stroke="#E6D5D7" stroke-width="17.5"/>
<path d="M285.4 1272.6C283.9 1252.7 310.3 1273.4 309.0 1257.6" stroke="#CFB1B4" stroke-width="22"/><path d="M285.4 1272.6C283.9 1252.7 310.3 1273.4 309.0 1257.6" stroke="#E6D5D7" stroke-width="17.5"/>
<path d="M451.3 1385.7C464.2 1374.5 467.9 1399.1 479.6 1392.9" stroke="#CFB1B4" stroke-width="22"/><path d="M451.3 1385.7C464.2 1374.5 467.9 1399.1 479.6 1392.9" stroke="#E6D5D7" stroke-width="17.5"/>
<path d="M291.6 1317.4C294.4 1331.6 276.3 1328.2 274.1 1337.8" stroke="#CFB1B4" stroke-width="22"/><path d="M291.6 1317.4C294.4 1331.6 276.3 1328.2 274.1 1337.8" stroke="#E6D5D7" stroke-width="17.5"/>
<path d="M427.9 1269.5C423.0 1252.8 446.3 1260.8 446.6 1247.3" stroke="#CFB1B4" stroke-width="22"/><path d="M427.9 1269.5C423.0 1252.8 446.3 1260.8 446.6 1247.3" stroke="#E6D5D7" stroke-width="17.5"/>
<path d="M472.1 1420.1C471.5 1438.4 493.3 1428.7 498.5 1444.1" stroke="#CFB1B4" stroke-width="22"/><path d="M472.1 1420.1C471.5 1438.4 493.3 1428.7 498.5 1444.1" stroke="#E6D5D7" stroke-width="17.5"/>
<path d="M311.6 1434.8C318.5 1419.5 336.7 1425.6 346.5 1417.8" stroke="#CFB1B4" stroke-width="22"/><path d="M311.6 1434.8C318.5 1419.5 336.7 1425.6 346.5 1417.8" stroke="#E6D5D7" stroke-width="17.5"/>
<path d="M306.0 1389.1C316.9 1409.6 329.2 1380.0 340.4 1390.1" stroke="#CFB1B4" stroke-width="22"/><path d="M306.0 1389.1C316.9 1409.6 329.2 1380.0 340.4 1390.1" stroke="#E6D5D7" stroke-width="17.5"/>
<path d="M353.2 1310.8C366.8 1326.2 337.3 1329.2 343.5 1340.2" stroke="#CFB1B4" stroke-width="22"/><path d="M353.2 1310.8C366.8 1326.2 337.3 1329.2 343.5 1340.2" stroke="#E6D5D7" stroke-width="17.5"/>
<path d="M463.9 1270.0C462.9 1288.0 482.9 1280.4 488.6 1290.8" stroke="#CFB1B4" stroke-width="22"/><path d="M463.9 1270.0C462.9 1288.0 482.9 1280.4 488.6 1290.8" stroke="#E6D5D7" stroke-width="17.5"/>
<path d="M417.4 1291.7C439.5 1289.3 429.8 1313.6 444.0 1320.8" stroke="#CFB1B4" stroke-width="22"/><path d="M417.4 1291.7C439.5 1289.3 429.8 1313.6 444.0 1320.8" stroke="#E6D5D7" stroke-width="17.5"/>
<path d="M463.7 1327.2C474.9 1305.6 490.4 1339.8 502.3 1323.9" stroke="#CFB1B4" stroke-width="22"/><path d="M463.7 1327.2C474.9 1305.6 490.4 1339.8 502.3 1323.9" stroke="#E6D5D7" stroke-width="17.5"/>
<path d="M391.0 1294.7C389.5 1313.2 413.2 1300.7 415.4 1314.6" stroke="#CFB1B4" stroke-width="22"/><path d="M391.0 1294.7C389.5 1313.2 413.2 1300.7 415.4 1314.6" stroke="#E6D5D7" stroke-width="17.5"/>
<path d="M486.0 1377.8C485.4 1393.6 507.2 1393.9 508.3 1405.9" stroke="#CFB1B4" stroke-width="22"/><path d="M486.0 1377.8C485.4 1393.6 507.2 1393.9 508.3 1405.9" stroke="#E6D5D7" stroke-width="17.5"/>
<path d="M352.7 1346.1C362.8 1364.7 374.5 1335.0 384.9 1347.2" stroke="#CFB1B4" stroke-width="22"/><path d="M352.7 1346.1C362.8 1364.7 374.5 1335.0 384.9 1347.2" stroke="#E6D5D7" stroke-width="17.5"/>
<path d="M441.7 1326.6C451.1 1313.9 460.5 1336.5 469.9 1326.6" stroke="#CFB1B4" stroke-width="22"/><path d="M441.7 1326.6C451.1 1313.9 460.5 1336.5 469.9 1326.6" stroke="#E6D5D7" stroke-width="17.5"/>
<path d="M419.1 1348.3C434.6 1357.5 435.0 1333.0 448.2 1335.7" stroke="#CFB1B4" stroke-width="22"/><path d="M419.1 1348.3C434.6 1357.5 435.0 1333.0 448.2 1335.7" stroke="#E6D5D7" stroke-width="17.5"/>
<path d="M413.8 1399.8C411.8 1417.1 434.2 1408.6 436.6 1421.7" stroke="#CFB1B4" stroke-width="22"/><path d="M413.8 1399.8C411.8 1417.1 434.2 1408.6 436.6 1421.7" stroke="#E6D5D7" stroke-width="17.5"/>
<path d="M430.5 1353.4C407.3 1346.4 422.1 1374.2 410.3 1376.1" stroke="#CFB1B4" stroke-width="22"/><path d="M430.5 1353.4C407.3 1346.4 422.1 1374.2 410.3 1376.1" stroke="#E6D5D7" stroke-width="17.5"/>
<path d="M249.7 1309.7C254.0 1286.3 276.7 1318.4 281.5 1299.7" stroke="#CFB1B4" stroke-width="22"/><path d="M249.7 1309.7C254.0 1286.3 276.7 1318.4 281.5 1299.7" stroke="#E6D5D7" stroke-width="17.5"/>
</g>
<g fill="#B8878A">
<circle cx="268.0" cy="1395.0" r="13.0"/><circle cx="264.1" cy="1389.2" r="12.7"/><circle cx="260.2" cy="1383.4" r="12.4"/><circle cx="256.8" cy="1377.3" r="12.2"/><circle cx="254.2" cy="1370.8" r="12.0"/><circle cx="252.8" cy="1363.9" r="11.9"/><circle cx="252.0" cy="1357.0" r="11.9"/><circle cx="251.6" cy="1350.0" r="11.9"/><circle cx="251.3" cy="1343.0" r="12.0"/><circle cx="251.2" cy="1336.0" r="12.0"/><circle cx="251.0" cy="1329.0" r="12.0"/><circle cx="250.8" cy="1322.0" r="12.0"/><circle cx="250.7" cy="1315.0" r="12.0"/><circle cx="250.8" cy="1308.0" r="12.0"/><circle cx="250.8" cy="1301.0" r="12.0"/><circle cx="250.9" cy="1294.0" r="12.0"/><circle cx="251.0" cy="1287.0" r="12.0"/><circle cx="251.1" cy="1280.0" r="12.0"/><circle cx="251.2" cy="1273.0" r="11.9"/><circle cx="251.3" cy="1266.0" r="11.9"/><circle cx="251.5" cy="1259.0" r="11.9"/><circle cx="251.9" cy="1252.0" r="12.0"/><circle cx="252.3" cy="1245.0" r="12.2"/><circle cx="252.7" cy="1238.0" r="12.5"/><circle cx="253.2" cy="1231.1" r="12.8"/><circle cx="254.0" cy="1224.1" r="13.3"/><circle cx="255.1" cy="1217.2" r="13.7"/><circle cx="257.3" cy="1210.6" r="14.3"/><circle cx="261.3" cy="1204.9" r="15.2"/><circle cx="267.8" cy="1203.0" r="16.0"/><circle cx="274.3" cy="1205.6" r="16.4"/><circle cx="280.0" cy="1209.5" r="16.6"/><circle cx="285.7" cy="1213.7" r="16.8"/><circle cx="291.4" cy="1217.6" r="17.0"/><circle cx="297.3" cy="1221.5" r="17.1"/><circle cx="303.0" cy="1225.5" r="17.2"/><circle cx="308.8" cy="1229.5" r="17.3"/><circle cx="314.7" cy="1233.2" r="17.4"/><circle cx="321.0" cy="1236.3" r="17.5"/><circle cx="327.5" cy="1238.9" r="17.5"/><circle cx="334.1" cy="1241.1" r="17.6"/><circle cx="340.9" cy="1243.0" r="17.7"/><circle cx="347.7" cy="1244.6" r="17.8"/><circle cx="354.5" cy="1246.0" r="17.9"/><circle cx="361.5" cy="1247.0" r="18.0"/><circle cx="368.4" cy="1247.7" r="18.0"/><circle cx="375.4" cy="1248.0" r="18.0"/><circle cx="382.4" cy="1247.8" r="18.0"/><circle cx="389.4" cy="1247.2" r="17.9"/><circle cx="396.3" cy="1246.3" r="17.8"/><circle cx="403.2" cy="1245.1" r="17.8"/><circle cx="410.1" cy="1243.7" r="17.7"/><circle cx="416.9" cy="1242.2" r="17.6"/><circle cx="423.7" cy="1240.6" r="17.5"/><circle cx="430.5" cy="1238.7" r="17.4"/><circle cx="437.1" cy="1236.5" r="17.3"/><circle cx="443.6" cy="1233.9" r="17.2"/><circle cx="449.9" cy="1230.8" r="17.1"/><circle cx="456.0" cy="1227.4" r="17.0"/><circle cx="461.9" cy="1223.6" r="16.8"/><circle cx="467.6" cy="1219.6" r="16.7"/><circle cx="473.2" cy="1215.3" r="16.6"/><circle cx="478.6" cy="1210.9" r="16.4"/><circle cx="484.0" cy="1206.5" r="16.2"/><circle cx="489.3" cy="1201.9" r="15.9"/><circle cx="494.1" cy="1196.8" r="15.5"/><circle cx="498.6" cy="1191.4" r="15.0"/><circle cx="503.6" cy="1186.6" r="14.4"/><circle cx="508.6" cy="1189.4" r="13.4"/><circle cx="510.2" cy="1196.2" r="12.9"/><circle cx="510.8" cy="1203.2" r="12.4"/><circle cx="511.0" cy="1210.2" r="12.1"/><circle cx="510.6" cy="1217.2" r="11.8"/><circle cx="509.6" cy="1224.1" r="11.7"/><circle cx="508.2" cy="1231.0" r="11.6"/><circle cx="506.8" cy="1237.8" r="11.6"/><circle cx="505.7" cy="1244.7" r="11.5"/><circle cx="504.8" cy="1251.7" r="11.5"/><circle cx="504.2" cy="1258.7" r="11.5"/><circle cx="503.6" cy="1265.6" r="11.4"/><circle cx="503.1" cy="1272.6" r="11.4"/><circle cx="502.7" cy="1279.6" r="11.4"/><circle cx="502.3" cy="1286.6" r="11.5"/><circle cx="502.1" cy="1293.6" r="11.5"/><circle cx="502.0" cy="1300.6" r="11.5"/><circle cx="502.1" cy="1307.6" r="11.6"/><circle cx="502.3" cy="1314.6" r="11.6"/><circle cx="502.6" cy="1321.6" r="11.7"/><circle cx="503.2" cy="1328.5" r="11.8"/><circle cx="504.2" cy="1335.5" r="11.9"/><circle cx="505.6" cy="1342.3" r="12.1"/><circle cx="508.1" cy="1348.8" r="12.3"/><circle cx="511.4" cy="1355.0" r="12.6"/><circle cx="514.5" cy="1361.3" r="12.9"/><circle cx="516.4" cy="1368.0" r="13.0"/><circle cx="517.2" cy="1375.0" r="13.1"/><circle cx="517.4" cy="1382.0" r="13.1"/><circle cx="516.9" cy="1388.9" r="13.0"/><circle cx="515.8" cy="1395.9" r="13.0"/><circle cx="514.0" cy="1402.6" r="13.0"/><circle cx="511.5" cy="1409.1" r="13.0"/><circle cx="508.2" cy="1415.3" r="13.0"/><circle cx="504.2" cy="1421.0" r="13.0"/><circle cx="499.5" cy="1426.2" r="13.0"/><circle cx="494.4" cy="1431.0" r="13.0"/><circle cx="488.9" cy="1435.4" r="13.0"/><circle cx="483.3" cy="1439.5" r="13.0"/><circle cx="477.3" cy="1443.2" r="13.0"/><circle cx="471.2" cy="1446.6" r="13.0"/><circle cx="464.8" cy="1449.4" r="13.0"/><circle cx="458.1" cy="1451.4" r="13.0"/><circle cx="451.2" cy="1452.4" r="13.0"/><circle cx="444.2" cy="1452.3" r="13.0"/><circle cx="437.3" cy="1451.2" r="13.1"/><circle cx="430.5" cy="1449.5" r="13.0"/><circle cx="424.0" cy="1446.9" r="12.9"/><circle cx="417.8" cy="1443.7" r="12.6"/><circle cx="411.7" cy="1440.1" r="12.3"/><circle cx="405.8" cy="1436.4" r="12.0"/>
<circle cx="274.4" cy="1391.1" r="11.5"/><circle cx="255.6" cy="1390.1" r="11.5"/><circle cx="262.4" cy="1373.7" r="11.5"/><circle cx="246.6" cy="1367.1" r="11.5"/><circle cx="258.3" cy="1354.5" r="11.5"/><circle cx="244.9" cy="1344.2" r="11.5"/><circle cx="257.6" cy="1332.8" r="11.5"/><circle cx="244.3" cy="1322.1" r="11.5"/><circle cx="257.2" cy="1311.0" r="11.5"/><circle cx="244.4" cy="1299.9" r="11.5"/><circle cx="257.5" cy="1289.1" r="11.5"/><circle cx="244.6" cy="1277.9" r="11.5"/><circle cx="257.7" cy="1267.1" r="11.5"/><circle cx="245.3" cy="1255.7" r="11.5"/><circle cx="259.0" cy="1245.4" r="11.5"/><circle cx="246.4" cy="1233.6" r="11.5"/><circle cx="261.8" cy="1224.1" r="11.5"/><circle cx="249.2" cy="1209.8" r="11.5"/><circle cx="267.3" cy="1212.7" r="11.5"/><circle cx="278.2" cy="1196.4" r="11.5"/><circle cx="275.7" cy="1220.3" r="11.5"/><circle cx="297.5" cy="1208.2" r="11.5"/><circle cx="293.8" cy="1233.3" r="11.5"/><circle cx="315.9" cy="1220.2" r="11.5"/><circle cx="313.8" cy="1246.1" r="11.5"/><circle cx="333.2" cy="1228.2" r="11.5"/><circle cx="336.7" cy="1254.5" r="11.5"/><circle cx="353.1" cy="1233.3" r="11.5"/><circle cx="359.8" cy="1259.4" r="11.5"/><circle cx="373.0" cy="1235.5" r="11.5"/><circle cx="384.1" cy="1260.2" r="11.5"/><circle cx="392.7" cy="1234.2" r="11.5"/><circle cx="407.4" cy="1256.7" r="11.5"/><circle cx="413.2" cy="1230.5" r="11.5"/><circle cx="429.7" cy="1251.3" r="11.5"/><circle cx="433.1" cy="1225.3" r="11.5"/><circle cx="452.4" cy="1242.6" r="11.5"/><circle cx="450.9" cy="1216.9" r="11.5"/><circle cx="472.6" cy="1229.9" r="11.5"/><circle cx="467.7" cy="1205.3" r="11.5"/><circle cx="490.1" cy="1215.3" r="11.5"/><circle cx="483.6" cy="1192.5" r="11.5"/><circle cx="505.8" cy="1197.6" r="11.5"/><circle cx="514.3" cy="1180.5" r="11.5"/><circle cx="503.1" cy="1198.2" r="11.5"/><circle cx="518.3" cy="1208.1" r="11.5"/><circle cx="504.2" cy="1218.2" r="11.5"/><circle cx="514.6" cy="1231.2" r="11.5"/><circle cx="500.3" cy="1239.7" r="11.5"/><circle cx="510.9" cy="1252.3" r="11.5"/><circle cx="497.9" cy="1262.1" r="11.5"/><circle cx="509.0" cy="1274.0" r="11.5"/><circle cx="496.5" cy="1284.3" r="11.5"/><circle cx="508.0" cy="1295.7" r="11.5"/><circle cx="496.0" cy="1306.7" r="11.5"/><circle cx="508.4" cy="1317.3" r="11.5"/><circle cx="497.0" cy="1329.2" r="11.5"/><circle cx="511.1" cy="1338.2" r="11.5"/><circle cx="502.4" cy="1352.8" r="11.5"/><circle cx="519.9" cy="1356.6" r="11.5"/><circle cx="509.2" cy="1371.1" r="11.5"/><circle cx="524.9" cy="1381.1" r="11.5"/><circle cx="509.1" cy="1390.8" r="11.5"/><circle cx="521.1" cy="1405.0" r="11.5"/><circle cx="503.1" cy="1409.2" r="11.5"/><circle cx="509.2" cy="1426.7" r="11.5"/><circle cx="490.8" cy="1424.2" r="11.5"/><circle cx="491.8" cy="1442.6" r="11.5"/><circle cx="474.3" cy="1436.3" r="11.5"/><circle cx="471.6" cy="1454.7" r="11.5"/><circle cx="456.4" cy="1444.1" r="11.5"/><circle cx="446.8" cy="1459.9" r="11.5"/><circle cx="438.0" cy="1443.6" r="11.5"/><circle cx="422.9" cy="1454.8" r="11.5"/><circle cx="419.6" cy="1436.6" r="11.5"/><circle cx="403.0" cy="1443.0" r="11.5"/>
<circle cx="271" cy="1399" r="33"/>
</g>
<path d="M288.2 1395.6 L278.0 1401.8 M253.8 1404.5 L263.7 1397.8 M275.6 1379.9 L264.6 1384.8 M239.3 1379.7 L251.1 1377.5 M268.5 1364.8 L256.6 1365.7 M235.7 1355.4 L247.7 1355.1 M267.4 1343.6 L255.4 1343.9 M235.0 1333.3 L247.0 1333.1 M266.7 1322.1 L254.7 1322.0 M234.7 1310.8 L246.7 1310.9 M266.9 1300.2 L254.9 1300.0 M235.0 1288.8 L247.0 1289.0 M266.9 1278.3 L254.9 1278.1 M235.3 1266.3 L247.3 1266.8 M267.8 1257.0 L255.8 1256.3 M236.1 1243.9 L248.1 1244.7 M269.8 1236.3 L257.9 1234.7 M236.5 1216.9 L247.8 1221.0 M261.5 1226.0 L256.3 1215.2 M273.1 1182.7 L267.3 1193.3 M261.2 1221.4 L268.4 1211.8 M293.3 1194.3 L286.8 1204.4 M279.3 1234.7 L286.3 1224.9 M311.7 1206.3 L305.2 1216.4 M299.7 1249.6 L305.1 1238.9 M325.8 1215.7 L321.9 1227.1 M323.6 1260.8 L326.7 1249.2 M344.2 1221.7 L341.8 1233.5 M347.6 1267.3 L349.2 1255.4 M362.5 1225.5 L361.9 1237.5 M373.7 1270.3 L373.0 1258.3 M380.5 1226.3 L382.1 1238.2 M398.4 1268.1 L396.2 1256.3 M400.3 1223.8 L403.0 1235.5 M421.6 1263.4 L418.4 1251.8 M419.5 1220.0 L423.6 1231.3 M446.7 1256.0 L441.4 1245.2 M436.6 1214.3 L442.7 1224.6 M469.3 1244.0 L462.2 1234.3 M453.2 1204.8 L460.7 1214.1 M487.6 1229.7 L480.0 1220.4 M469.2 1194.0 L477.9 1202.2 M505.9 1212.1 L496.7 1204.3 M514.1 1166.0 L505.1 1173.9 M492.2 1188.6 L504.1 1187.0 M527.6 1197.0 L515.6 1197.1 M496.5 1205.9 L508.3 1207.7 M526.1 1222.4 L514.3 1220.0 M493.0 1227.2 L504.8 1229.3 M521.4 1242.3 L509.5 1241.1 M489.4 1250.4 L501.3 1251.4 M519.2 1263.7 L507.2 1262.9 M487.5 1272.9 L499.5 1273.4 M517.7 1284.9 L505.7 1284.6 M486.3 1295.9 L498.3 1295.6 M517.4 1305.8 L505.4 1306.4 M486.4 1319.3 L498.3 1318.0 M518.2 1325.6 L506.5 1327.9 M489.0 1347.1 L499.8 1341.8 M523.9 1342.6 L513.0 1347.6 M498.2 1361.7 L510.0 1359.9 M534.6 1370.2 L522.6 1370.0 M501.4 1378.5 L513.3 1380.3 M533.7 1397.6 L522.3 1393.8 M499.9 1395.0 L510.5 1400.7 M523.6 1424.6 L514.5 1416.7 M492.5 1409.7 L500.6 1418.5 M506.3 1443.7 L499.2 1434.1 M478.9 1422.5 L485.1 1432.8 M485.5 1458.8 L480.6 1447.8 M465.1 1432.4 L467.7 1444.1 M457.4 1469.9 L457.9 1457.9 M450.9 1436.9 L448.2 1448.6 M429.4 1467.8 L434.0 1456.7 M433.9 1434.0 L427.8 1444.3 M407.5 1456.8 L413.7 1446.5" fill="none" stroke="#A67477" stroke-width="2.5" stroke-linecap="round" opacity="0.55"/>
<path d="M262 1196C300 1226 345 1237 375 1237C420 1235 460 1213 500 1175" fill="none" stroke="#DCC4C6" stroke-width="2.5"/>
<path d="M371 1440C374 1424 400 1416 411 1430C417 1450 411 1470 409 1490C405 1508 398 1520 393 1527C386 1518 379 1500 377 1480C371 1465 367 1452 371 1440Z" fill="#B8878A"/>
<path d="M306 1414C318 1422 326 1435 325 1455" fill="none" stroke="#B8878A" stroke-width="6" stroke-linecap="round"/>
<!--/BODY-->

<!--CELLS-->
<g fill="#767171">
<polygon points="625.2,899.7 683.2,842.2 694.1,853.2 710.3,794.2 651.2,809.8 662.1,820.8 604.0,878.3"/>
<polygon points="861.9,663.4 919.9,605.8 930.8,616.8 947.0,557.8 887.9,573.5 898.8,584.5 840.7,642.0"/>
<polygon points="1145.8,568.4 1270.5,692.5 1259.5,703.5 1318.6,719.3 1302.6,660.3 1291.6,671.3 1167.0,547.2"/>
<polygon points="1489.5,954.3 1638.8,1181.0 1625.9,1189.5 1680.5,1217.0 1676.8,1156.0 1663.9,1164.5 1514.5,937.7"/>
<polygon points="1219.6,1930.6 1665.6,1485.6 1676.5,1496.5 1692.5,1437.5 1633.4,1453.3 1644.4,1464.3 1198.4,1909.4"/>
</g>
<g fill="#E2AE88">
<path d="M640 692L760 672L830 667L880 716L720 744L620 726Z"/>
<path d="M573.0 690.0 C612.1 688.0 623.8 651.0 671.5 651.0 C719.2 651.0 746.6 673.0 790.0 672.0 C750.9 675.0 739.2 699.0 691.5 699.0 C643.8 699.0 616.4 690.0 573.0 690.0Z"/>
<path d="M705.0 700.0 C750.9 698.0 786.4 661.0 842.5 661.0 C898.6 661.0 909.0 691.0 960.0 690.0 C914.1 693.0 878.6 717.0 822.5 717.0 C766.4 717.0 756.0 700.0 705.0 700.0Z"/>
<path d="M509.0 722.0 C551.5 720.0 570.1 688.0 622.0 688.0 C673.9 688.0 697.8 703.0 745.0 702.0 C702.5 705.0 683.9 734.0 632.0 734.0 C580.1 734.0 556.2 722.0 509.0 722.0Z"/>
<path d="M640.0 728.0 C692.2 726.0 726.2 699.0 790.0 699.0 C853.8 699.0 872.0 719.0 930.0 718.0 C877.8 721.0 843.8 743.0 780.0 743.0 C716.2 743.0 698.0 728.0 640.0 728.0Z"/>
<path d="M568.0 757.0 C617.0 755.0 636.2 725.5 696.0 725.5 C755.8 725.5 785.6 735.0 840.0 734.0 C791.0 737.0 771.8 767.5 712.0 767.5 C652.2 767.5 622.4 757.0 568.0 757.0Z"/>
</g>
<g fill="none" stroke="#fff" stroke-width="1.6" stroke-dasharray="10 2 3 2" opacity="0.75">
<path d="M573 691C640 684 700 690 745 700C800 712 860 716 930 716"/>
<path d="M640 728C700 718 760 722 811 738"/>
<path d="M660 712C700 700 740 680 790 672"/>
<path d="M700 704C760 698 860 704 930 716"/>
</g>
<g fill="#D88E58">
<ellipse cx="699.0" cy="671.7" rx="23" ry="9.5" transform="rotate(6 699.0 671.7)"/>
<ellipse cx="842.4" cy="687.0" rx="23" ry="9.5" transform="rotate(6 842.4 687.0)"/>
<ellipse cx="635.3" cy="705.0" rx="23" ry="9.5" transform="rotate(6 635.3 705.0)"/>
<ellipse cx="770.0" cy="713.8" rx="23" ry="9.5" transform="rotate(6 770.0 713.8)"/>
<ellipse cx="693.0" cy="740.7" rx="23" ry="9.5" transform="rotate(6 693.0 740.7)"/>
</g>
<ellipse cx="1046.6" cy="400.7" rx="58.2" ry="55.5" fill="#F6E4D8"/>
<ellipse cx="1046.6" cy="400.7" rx="55.7" ry="53.0" fill="#EBC7AE" stroke="#E8B592" stroke-width="2.5"/>
<circle cx="1047.5" cy="417.2" r="25" fill="#E2A882"/>
<ellipse cx="1165.3" cy="395.2" rx="63.4" ry="59.5" fill="#F6E4D8"/>
<ellipse cx="1165.3" cy="395.2" rx="60.9" ry="57.0" fill="#EBC7AE" stroke="#E8B592" stroke-width="2.5"/>
<circle cx="1159.3" cy="406.8" r="25" fill="#E2A882"/>
<ellipse cx="1008.8" cy="504.0" rx="60.8" ry="60.8" fill="#F6E4D8"/>
<ellipse cx="1008.8" cy="504.0" rx="58.3" ry="58.3" fill="#EBC7AE" stroke="#E8B592" stroke-width="2.5"/>
<circle cx="1007.4" cy="514.3" r="25" fill="#E2A882"/>
<ellipse cx="1099.5" cy="479.5" rx="57.8" ry="60.4" fill="#F6E4D8"/>
<ellipse cx="1099.5" cy="479.5" rx="55.3" ry="57.9" fill="#EBC7AE" stroke="#E8B592" stroke-width="2.5"/>
<circle cx="1099.9" cy="489.4" r="25" fill="#E2A882"/>
<ellipse cx="1205.7" cy="474.3" rx="63.4" ry="59.5" fill="#F6E4D8"/>
<ellipse cx="1205.7" cy="474.3" rx="60.9" ry="57.0" fill="#EBC7AE" stroke="#E8B592" stroke-width="2.5"/>
<circle cx="1199.7" cy="484.2" r="25" fill="#E2A882"/>
<rect x="1319.0" y="746" width="66.3" height="169" rx="11" ry="11" fill="#EBC7AE" stroke="#F3DCCB" stroke-width="2.5"/>
<rect x="1387.3" y="746" width="66.3" height="169" rx="11" ry="11" fill="#EBC7AE" stroke="#F3DCCB" stroke-width="2.5"/>
<rect x="1455.6" y="746" width="66.3" height="169" rx="11" ry="11" fill="#EBC7AE" stroke="#F3DCCB" stroke-width="2.5"/>
<rect x="1523.9" y="746" width="66.3" height="169" rx="11" ry="11" fill="#EBC7AE" stroke="#F3DCCB" stroke-width="2.5"/>
<rect x="1592.2" y="746" width="66.3" height="169" rx="11" ry="11" fill="#EBC7AE" stroke="#F3DCCB" stroke-width="2.5"/>
<ellipse cx="1357.4" cy="877" rx="18" ry="17.2" fill="#E0AD8B"/>
<ellipse cx="1424.0" cy="877" rx="18" ry="17.2" fill="#E0AD8B"/>
<ellipse cx="1489.8" cy="877" rx="18" ry="17.2" fill="#E0AD8B"/>
<ellipse cx="1555.5" cy="877" rx="18" ry="17.2" fill="#E0AD8B"/>
<ellipse cx="1621.3" cy="877" rx="18" ry="17.2" fill="#E0AD8B"/>
<!--/CELLS-->

<!--ARROWS-->
<g class="g" id="arrows">
  <!-- tumor line -->
  <rect x="515" y="1312" width="1040" height="30"/>
  <polygon points="1552,1296 1606,1327 1552,1358"/>
  <!-- plate to bracket -->
  <rect x="3252" y="1306" width="200" height="30"/>
  <!-- bracket -->
  <rect x="3444" y="230" width="30" height="2145"/>
  <rect x="3444" y="230" width="180" height="30"/>
  <polygon points="3620,214 3673,245 3620,276"/>
  <rect x="3444" y="934" width="180" height="30"/>
  <polygon points="3620,918 3673,949 3620,980"/>
  <rect x="3444" y="1639" width="180" height="30"/>
  <polygon points="3620,1623 3673,1654 3620,1685"/>
  <rect x="3444" y="2345" width="180" height="30"/>
  <polygon points="3620,2329 3673,2360 3620,2391"/>
</g>
<!--/ARROWS-->

<!--TUMOR-->
<defs><linearGradient id="skinG" x1="937" y1="0" x2="1230" y2="0" gradientUnits="userSpaceOnUse"><stop offset="0" stop-color="#EDCFC6" stop-opacity="0"/><stop offset="0.17" stop-color="#EDCFC6"/><stop offset="0.83" stop-color="#EDCFC6"/><stop offset="1" stop-color="#EDCFC6" stop-opacity="0"/></linearGradient></defs>
<path d="M937 1366C960 1380 985 1388 1000 1385L1090 1352L1180 1385C1200 1386 1215 1380 1230 1372L1230 1414C1180 1432 1130 1438 1090 1437C1040 1437 985 1425 937 1398Z" fill="url(#skinG)"/>
<path d="M955.4 1289.4C955.3 1279.6 958.6 1261.4 961.5 1254.6C964.4 1247.8 971.3 1246.5 975.0 1244.0C978.7 1241.5 983.8 1240.8 986.0 1238.0C988.2 1235.2 988.4 1228.0 990.0 1225.0C991.6 1222.0 991.9 1220.4 996.4 1217.7C1000.9 1215.0 1012.9 1209.8 1020.0 1207.0C1027.1 1204.2 1035.4 1200.3 1043.5 1199.0C1051.6 1197.7 1064.8 1199.7 1074.0 1198.0C1083.2 1196.3 1097.2 1189.7 1105.0 1188.0C1112.8 1186.3 1119.8 1186.5 1126.0 1187.0C1132.2 1187.5 1140.6 1189.2 1146.0 1191.0C1151.4 1192.8 1157.7 1196.2 1162.0 1199.0C1166.3 1201.8 1171.2 1206.3 1174.7 1209.5C1178.2 1212.7 1182.6 1216.6 1185.0 1220.0C1187.4 1223.4 1189.7 1228.1 1191.0 1232.0C1192.3 1235.9 1193.4 1241.7 1194.0 1246.0C1194.6 1250.3 1193.2 1257.2 1195.0 1260.7C1196.8 1264.2 1202.9 1266.0 1206.0 1269.0C1209.1 1272.0 1213.8 1276.7 1215.7 1281.0C1217.7 1285.3 1218.7 1293.0 1219.0 1298.0C1219.3 1303.0 1218.9 1308.5 1217.8 1314.0C1216.7 1319.5 1214.1 1329.9 1211.6 1334.5C1209.1 1339.1 1210.2 1342.5 1201.0 1344.8C1191.8 1347.1 1180.2 1349.2 1150.0 1350.0C1119.8 1350.8 1028.2 1354.5 1000.0 1350.0C971.8 1345.5 968.7 1329.1 962.0 1320.0C955.3 1310.9 955.5 1299.2 955.4 1289.4Z" fill="#C9664E" stroke="#C5553C" stroke-width="2.5"/>
<path d="M961.5 1293.5C962.6 1286.1 965.2 1271.2 967.7 1264.8C970.2 1258.4 974.4 1254.4 978.0 1251.0C981.6 1247.6 987.8 1245.5 992.0 1242.0C996.2 1238.5 1001.4 1231.6 1006.0 1228.0C1010.6 1224.4 1017.3 1220.2 1023.0 1217.7C1028.7 1215.2 1037.8 1212.2 1044.0 1211.0C1050.2 1209.8 1059.5 1209.1 1064.0 1209.5C1068.5 1209.9 1070.1 1214.0 1074.0 1213.6C1077.9 1213.2 1085.3 1208.3 1090.0 1207.0C1094.7 1205.7 1099.6 1205.2 1105.0 1205.0C1110.4 1204.8 1119.8 1205.0 1126.0 1206.0C1132.2 1207.0 1140.5 1209.0 1146.0 1211.5C1151.5 1214.0 1158.4 1219.0 1163.0 1223.0C1167.6 1227.0 1173.3 1233.0 1176.8 1238.0C1180.2 1243.0 1183.9 1250.8 1186.0 1256.0C1188.1 1261.2 1188.9 1269.1 1191.0 1273.0C1193.1 1276.9 1197.8 1278.9 1200.0 1282.0C1202.2 1285.1 1204.2 1289.3 1205.5 1293.5C1206.8 1297.7 1208.2 1305.1 1208.5 1310.0C1208.8 1314.9 1208.6 1321.5 1207.5 1326.0C1206.4 1330.5 1203.2 1336.2 1201.0 1340.0C1198.8 1343.8 1195.1 1348.5 1193.0 1351.0C1190.9 1353.5 1187.6 1353.8 1187.0 1357.0C1186.4 1360.2 1188.5 1367.4 1189.0 1372.0C1189.5 1376.6 1191.0 1384.6 1190.0 1387.8C1189.0 1391.0 1184.6 1391.9 1182.0 1393.0C1179.4 1394.1 1176.0 1395.3 1172.7 1395.0C1169.4 1394.7 1164.0 1392.4 1160.0 1391.0C1156.0 1389.6 1150.5 1387.8 1146.0 1385.8C1141.5 1383.8 1134.7 1380.0 1130.0 1378.0C1125.3 1376.0 1119.2 1374.0 1115.0 1372.5C1110.8 1371.0 1106.0 1368.8 1102.0 1368.0C1098.0 1367.2 1092.5 1366.7 1088.6 1367.0C1084.7 1367.3 1079.7 1368.7 1076.0 1370.0C1072.3 1371.3 1068.8 1373.7 1064.0 1375.5C1059.2 1377.3 1050.2 1380.0 1044.0 1382.0C1037.8 1384.0 1028.8 1387.4 1023.0 1388.9C1017.1 1390.4 1010.2 1391.5 1005.0 1392.0C999.8 1392.5 991.1 1393.2 988.0 1392.0C984.9 1390.8 984.8 1386.5 984.0 1384.0C983.2 1381.5 983.6 1378.3 983.0 1375.5C982.4 1372.7 981.5 1367.6 980.0 1365.0C978.5 1362.4 974.8 1360.1 973.0 1358.0C971.2 1355.9 968.9 1353.7 967.7 1351.0C966.5 1348.3 965.3 1343.2 965.0 1340.0C964.7 1336.8 966.1 1332.7 965.6 1330.0C965.1 1327.3 962.8 1324.4 962.0 1322.0C961.2 1319.6 960.6 1318.3 960.5 1314.0C960.4 1309.7 960.4 1300.9 961.5 1293.5Z" fill="#D89583" stroke="#EFCBBF" stroke-width="2.5"/>
<g fill="none" stroke="#C9694F" stroke-width="2.2" stroke-linecap="round">
<path d="M1046 1246C1040 1262 1048 1275 1052 1285C1056 1310 1052 1325 1058 1342"/>
<path d="M1017 1266C1018 1280 1026 1284 1029 1293"/>
<path d="M999 1294C1004 1312 1020 1312 1036 1333"/>
<path d="M1071 1241C1070 1250 1074 1256 1073 1262"/>
<path d="M1133 1243C1118 1252 1102 1255 1098 1266"/>
<path d="M1100 1294C1090 1306 1086 1314 1092 1322C1096 1330 1092 1336 1088 1337"/>
<path d="M1150 1294C1135 1298 1132 1308 1128 1316C1120 1324 1114 1326 1116 1336C1114 1340 1110 1342 1108 1342"/>
<path d="M1162 1284C1168 1280 1172 1279 1175 1278"/>
<path d="M1004 1345C1014 1348 1022 1344 1032 1349"/>
<path d="M1139 1346C1148 1342 1156 1342 1163 1339"/>
</g>
<circle cx="1076.3" cy="1400" r="4" fill="#C9664E"/><circle cx="1094.8" cy="1399" r="6.5" fill="#6F5FB0"/>
<!--/TUMOR-->
<!--VIAL-->
<defs><linearGradient id="vialB" x1="1075" y1="0" x2="1165" y2="0" gradientUnits="userSpaceOnUse"><stop offset="0" stop-color="#EDB9B4"/><stop offset="0.12" stop-color="#F3B49E"/><stop offset="0.85" stop-color="#F4B8A2"/><stop offset="1" stop-color="#ECC0C2"/></linearGradient>
<filter id="vblur" x="-10%" y="-5%" width="120%" height="110%"><feGaussianBlur stdDeviation="0.9"/></filter></defs>
<g filter="url(#vblur)">
<path d="M1076 1855H1164V2070C1164 2082 1158 2088 1150 2088H1090C1082 2088 1076 2082 1076 2070Z" fill="url(#vialB)"/>
<rect x="1086" y="2006" width="68" height="74" rx="14" fill="#F6C9B6"/>
<rect x="1080" y="1998" width="80" height="12" fill="#F8D2C4" opacity="0.8"/>
<rect x="1098" y="2082" width="44" height="6" fill="#4A3A40"/>
<path d="M1078 1860V2070" stroke="#E6BFC6" stroke-width="3" fill="none"/><path d="M1162 1860V2070" stroke="#E6BFC6" stroke-width="3" fill="none"/>
<rect x="1075" y="1797" width="90" height="62" fill="#FF5A1C"/>
<path d="M1080 1812C1100 1806 1140 1806 1160 1812M1080 1838C1100 1848 1140 1830 1160 1842" stroke="#FFC9B0" stroke-width="3" fill="none" opacity="0.8"/>
<rect x="1078" y="1800" width="6" height="58" fill="#FFD9CC" opacity="0.7"/><rect x="1156" y="1800" width="6" height="58" fill="#FFD9CC" opacity="0.7"/>
<rect x="1075" y="1735" width="90" height="65" rx="3" fill="#FF5A10"/>
<path d="M1086 1742V1796 M1095 1742V1796 M1104 1742V1796 M1113 1742V1796 M1122 1742V1796 M1131 1742V1796 M1140 1742V1796 M1149 1742V1796 M1158 1742V1796" stroke="#FF8040" stroke-width="2.5" fill="none"/>
</g>
<text transform="translate(1090,1862) rotate(90)" fill="#fff" fill-opacity="0.8" style="font-family:'Liberation Sans',sans-serif;font-size:42px;stroke:#fff;stroke-width:0.8px;stroke-opacity:0.8"><tspan style="font-size:80px;stroke:none">X</tspan><tspan dx="6" dy="-17">piult</tspan></text>
<!--/VIAL-->
<!--FLASK-->
<defs>
<filter id="fblur" x="-5%" y="-5%" width="110%" height="110%"><feGaussianBlur stdDeviation="2.2"/></filter>
<filter id="fblur2" x="-10%" y="-10%" width="120%" height="120%"><feGaussianBlur stdDeviation="5"/></filter>
<linearGradient id="frontG" x1="1760" y1="1335" x2="1735" y2="1410" gradientUnits="userSpaceOnUse"><stop offset="0" stop-color="#DDB0A8"/><stop offset="0.55" stop-color="#D29585"/><stop offset="0.8" stop-color="#DC6740"/><stop offset="1" stop-color="#E2451A"/></linearGradient>
<linearGradient id="capG" x1="2010" y1="1370" x2="2075" y2="1440" gradientUnits="userSpaceOnUse"><stop offset="0" stop-color="#EE6A22"/><stop offset="0.6" stop-color="#E2501C"/><stop offset="1" stop-color="#D2431A"/></linearGradient>
</defs>
<g filter="url(#fblur)">
<polygon points="1640.0,1375.0 1850.0,1462.0 1975.0,1452.0 2000.0,1425.0 1990.0,1400.0 1700.0,1340.0" fill="#C9CDD0" opacity="0.55" filter="url(#fblur2)"/>
<polygon points="1627.5,1295.0 1756.6,1191.0 1976.7,1263.0 2027.5,1327.0 2026.0,1343.0 2003.0,1395.0 1998.0,1428.0 1970.0,1446.0 1843.4,1456.0 1638.0,1375.0 1631.0,1360.0" fill="#DCE1E3" stroke="#C3C9CC" stroke-width="3" stroke-linejoin="round"/>
<polygon points="1632.0,1296.0 1757.0,1196.0 1974.0,1266.0 1852.0,1384.0" fill="#D5DCDF"/>
<polygon points="1669.8,1316.0 1756.6,1250.4 1917.5,1305.4 1991.5,1347.8 1987.3,1381.6 1854.0,1383.0" fill="#E3BBB4"/>
<polygon points="1700.0,1318.0 1762.0,1268.0 1900.0,1315.0 1850.0,1368.0" fill="#EACBC6" opacity="0.8"/>
<polygon points="1636.0,1318.0 1660.0,1322.0 1852.0,1392.0 1990.0,1388.0 1996.0,1426.0 1970.0,1445.0 1843.4,1455.0 1638.0,1373.0" fill="url(#frontG)"/>
<polygon points="1858.0,1392.0 1988.0,1388.0 1994.0,1420.0 1965.0,1432.0 1868.0,1436.0" fill="#E0ADA6" opacity="0.85"/>
<polygon points="1845.0,1446.0 1968.0,1436.0 1972.0,1445.0 1843.0,1456.0" fill="#E2481C"/>
<g fill="none" stroke="#C9CFD2" stroke-width="3" stroke-linecap="round">
<path d="M1629 1297L1852 1385L1976 1265"/><path d="M1852 1385L1990 1386"/><path d="M1757 1250L1757 1194"/><path d="M1670 1316L1756 1250L1918 1305L1992 1348"/>
</g>
<path d="M1629 1297L1852 1385" stroke="#E9EDEF" stroke-width="5" fill="none"/>
<polygon points="1990.0,1388.0 2004.0,1384.0 2012.0,1426.0 1997.0,1430.0" fill="#D8D0D2"/>
<g transform="rotate(-14 2045 1402)"><rect x="2000" y="1358" width="92" height="90" rx="16" ry="22" fill="url(#capG)"/><ellipse cx="2082" cy="1403" rx="12" ry="43" fill="#D64A1C"/></g>
</g>
<!--/FLASK-->
<!--CURVES-->
<path d="M2061 1218A426 426 0 0 1 2624 1143" fill="none" stroke="#767171" stroke-width="33"/>
<polygon points="2599.2,1167.4 2672.0,1184.7 2643.4,1115.6" fill="#767171"/>
<path d="M2081.4 1498A442 442 0 0 0 2662 1516" fill="none" stroke="#767171" stroke-width="33"/>
<polygon points="2685.0,1540.3 2703.5,1465.4 2633.0,1496.5" fill="#767171"/>
<!--/CURVES-->
<!--SEM-->
<defs>
<clipPath id="c1"><circle cx="2382.2" cy="920.2" r="218"/></clipPath>
<clipPath id="c2"><circle cx="2377.3" cy="1763" r="218.5"/></clipPath>
<filter id="sblur1" x="-10%" y="-10%" width="120%" height="120%"><feGaussianBlur stdDeviation="1.2"/></filter>
<filter id="sblur" x="-10%" y="-10%" width="120%" height="120%"><feGaussianBlur stdDeviation="2.5"/></filter>
<radialGradient id="dome"><stop offset="0" stop-color="#fff" stop-opacity="0.75"/><stop offset="0.5" stop-color="#fff" stop-opacity="0.65"/><stop offset="0.8" stop-color="#fff" stop-opacity="0.45"/><stop offset="0.93" stop-color="#fff" stop-opacity="0.27"/><stop offset="1" stop-color="#fff" stop-opacity="0"/></radialGradient>
<filter id="relief2" filterUnits="userSpaceOnUse" x="2150" y="1535" width="460" height="460" color-interpolation-filters="sRGB"><feGaussianBlur in="SourceAlpha" stdDeviation="2.2" result="h0"/><feTurbulence type="fractalNoise" baseFrequency="0.09" numOctaves="3" seed="4" result="t"/><feColorMatrix in="t" type="matrix" values="0 0 0 0 0  0 0 0 0 0  0 0 0 0 0  0.13 0 0 0 0" result="ta"/><feComposite in="h0" in2="ta" operator="arithmetic" k1="0" k2="1" k3="1" k4="0" result="h"/><feDiffuseLighting in="h" surfaceScale="34" diffuseConstant="1.0" lighting-color="#c6c6c6" result="lit"><feDistantLight azimuth="240" elevation="62"/></feDiffuseLighting><feGaussianBlur in="lit" stdDeviation="0.9"/></filter>
<filter id="relief1" filterUnits="userSpaceOnUse" x="2155" y="695" width="455" height="455" color-interpolation-filters="sRGB"><feGaussianBlur in="SourceAlpha" stdDeviation="2.5" result="h0"/><feTurbulence type="fractalNoise" baseFrequency="0.02 0.028" numOctaves="4" seed="9" result="t"/><feColorMatrix in="t" type="matrix" values="0 0 0 0 0  0 0 0 0 0  0 0 0 0 0  0.5 0 0 0 -0.05" result="ta"/><feComposite in="h0" in2="ta" operator="arithmetic" k1="0" k2="1" k3="1" k4="0" result="h"/><feDiffuseLighting in="h" surfaceScale="30" diffuseConstant="1.0" lighting-color="#a8a8a8" result="lit"><feDistantLight azimuth="250" elevation="58"/></feDiffuseLighting><feGaussianBlur in="lit" stdDeviation="1.4"/></filter>
<filter id="semN2" x="0" y="0" width="100%" height="100%"><feTurbulence type="fractalNoise" baseFrequency="0.07" numOctaves="2" seed="3"/><feColorMatrix type="matrix" values="0 0 0 0 1  0 0 0 0 1  0 0 0 0 1  1.3 0 0 0 -0.55"/></filter>
<filter id="semN3" x="0" y="0" width="100%" height="100%"><feTurbulence type="fractalNoise" baseFrequency="0.05" numOctaves="3" seed="12"/><feColorMatrix type="matrix" values="0 0 0 0 0  0 0 0 0 0  0 0 0 0 0  1.5 0 0 0 -0.5"/></filter>
<pattern id="mesh" width="18" height="14" patternUnits="userSpaceOnUse" patternTransform="rotate(-6)"><rect width="18" height="14" fill="#CFCFCF"/><polygon points="9,2 15.5,7 9,12 2.5,7" fill="#5C5C5C"/></pattern>
</defs>
<g clip-path="url(#c1)">
<g filter="url(#relief1)">
<rect x="2155" y="695" width="455" height="455" fill="#fff" fill-opacity="0.12"/>
<circle cx="2305" cy="877" r="38" fill="url(#dome)"/>
<circle cx="2381" cy="877" r="28" fill="url(#dome)"/>
<circle cx="2470" cy="864" r="30" fill="url(#dome)"/>
<circle cx="2422" cy="884" r="19" fill="url(#dome)"/>
<circle cx="2235" cy="921" r="28" fill="url(#dome)"/>
<circle cx="2372" cy="959" r="35" fill="url(#dome)"/>
<circle cx="2194" cy="877" r="25" fill="url(#dome)"/>
<circle cx="2238" cy="867" r="19" fill="url(#dome)"/>
<circle cx="2300" cy="800" r="20" fill="url(#dome)"/>
<circle cx="2345" cy="822" r="18" fill="url(#dome)"/>
<circle cx="2180" cy="935" r="20" fill="url(#dome)"/>
<circle cx="2260" cy="800" r="16" fill="url(#dome)"/>
<circle cx="2530" cy="985" r="30" fill="url(#dome)"/>
<circle cx="2570" cy="930" r="22" fill="url(#dome)"/>
</g>
<g filter="url(#sblur)">
<path d="M2394.0 806.0C2393.2 792.2 2395.3 783.8 2398.0 775.0C2400.7 766.2 2402.8 760.8 2410.0 753.0C2417.2 745.2 2433.2 734.3 2441.0 728.0C2448.8 721.7 2447.2 719.7 2457.0 715.0C2466.8 710.3 2482.8 699.2 2500.0 700.0C2517.2 700.8 2540.8 705.0 2560.0 720.0C2579.2 735.0 2605.8 763.3 2615.0 790.0C2624.2 816.7 2618.0 866.3 2615.0 880.0C2612.0 893.7 2607.5 871.3 2597.0 872.0C2586.5 872.7 2568.5 884.2 2552.0 884.0C2535.5 883.8 2513.8 877.3 2498.0 871.0C2482.2 864.7 2470.0 849.2 2457.0 846.0C2444.0 842.8 2429.0 850.0 2420.0 852.0C2411.0 854.0 2407.3 865.7 2403.0 858.0C2398.7 850.3 2394.8 819.8 2394.0 806.0Z" fill="#161616" opacity="0.55"/>
<path d="M2480.0 800.0C2483.3 790.0 2505.0 780.0 2520.0 780.0C2535.0 780.0 2558.3 788.3 2570.0 800.0C2581.7 811.7 2595.0 840.0 2590.0 850.0C2585.0 860.0 2555.0 861.7 2540.0 860.0C2525.0 858.3 2510.0 850.0 2500.0 840.0C2490.0 830.0 2476.7 810.0 2480.0 800.0Z" fill="#000" opacity="0.45"/>
<ellipse cx="2322" cy="990" rx="22" ry="9" transform="rotate(40 2322 990)" fill="#0a0a0a" opacity="0.7"/>
<ellipse cx="2345" cy="1035" rx="11" ry="28" transform="rotate(-25 2345 1035)" fill="#0a0a0a" opacity="0.7"/>
<ellipse cx="2262" cy="1012" rx="20" ry="7" transform="rotate(10 2262 1012)" fill="#0a0a0a" opacity="0.7"/>
<ellipse cx="2405" cy="925" rx="26" ry="8" transform="rotate(15 2405 925)" fill="#0a0a0a" opacity="0.7"/>
<ellipse cx="2340" cy="915" rx="34" ry="8" transform="rotate(5 2340 915)" fill="#0a0a0a" opacity="0.7"/>
<ellipse cx="2270" cy="955" rx="26" ry="8" transform="rotate(20 2270 955)" fill="#0a0a0a" opacity="0.7"/>
<ellipse cx="2215" cy="985" rx="24" ry="7" transform="rotate(25 2215 985)" fill="#0a0a0a" opacity="0.7"/>
<ellipse cx="2470" cy="1050" rx="12" ry="7" transform="rotate(0 2470 1050)" fill="#0a0a0a" opacity="0.7"/>
<ellipse cx="2545" cy="905" rx="30" ry="8" transform="rotate(10 2545 905)" fill="#0a0a0a" opacity="0.7"/>
<ellipse cx="2440" cy="910" rx="16" ry="7" transform="rotate(-15 2440 910)" fill="#0a0a0a" opacity="0.7"/>
<path d="M2415.0 1000.0C2420.0 978.3 2449.2 965.8 2470.0 960.0C2490.8 954.2 2521.7 951.7 2540.0 965.0C2558.3 978.3 2583.3 1015.8 2580.0 1040.0C2576.7 1064.2 2543.3 1101.7 2520.0 1110.0C2496.7 1118.3 2457.5 1108.3 2440.0 1090.0C2422.5 1071.7 2410.0 1021.7 2415.0 1000.0Z" fill="#fff" opacity="0.13"/>
</g>
<path d="M2449 1094l60 -31 M2496 1126l18 -42 M2577 1077l28 -11 M2388 1004l39 -33 M2205 999l64 16 M2506 989l28 -14 M2447 983l23 -60 M2284 999l53 36 M2316 1133l52 20 M2282 1129l62 30 M2557 1014l21 -25 M2258 972l51 13 M2201 1082l38 10 M2527 1047l28 -37 M2482 970l25 -8 M2500 1112l23 -56 M2346 1064l27 3 M2272 1132l58 12 M2572 1130l26 -32 M2410 1100l26 -52 M2519 1115l27 -62 M2236 1021l61 26 M2336 1126l36 14 M2327 992l31 4 M2476 1139l13 -24 M2595 1056l24 -26 M2438 1109l31 -31 M2222 1125l47 5 M2535 984l58 -35 M2452 1102l20 -40 M2260 1112l44 11 M2600 1113l43 -14 M2395 1091l27 -26 M2362 986l67 20 M2584 1073l29 -27 M2236 1009l56 30 M2345 1101l50 26 M2466 1097l36 -43 M2312 1047l50 26 M2318 1130l47 21 M2205 1058l54 12 M2385 1107l50 -35 M2339 1076l56 28 M2340 1112l48 29 M2590 1132l36 -33 M2266 1111l39 25 M2477 1090l28 -17 M2512 1065l36 -25 M2449 1099l47 -34 M2211 989l51 17 M2288 1083l25 11 M2389 1001l13 -28 M2327 993l26 5 M2386 1028l41 -31 M2295 1123l43 4 M2311 1034l62 10 M2350 966l27 12 M2418 1021l53 -43 M2527 1035l48 -24 M2348 986l46 20" stroke="#D0D0D0" stroke-width="3" fill="none" opacity="0.28" filter="url(#sblur1)"/>
<path d="M2150.0 690.0C2196.7 682.0 2456.0 688.0 2500.0 690.0C2544.0 692.0 2485.7 701.7 2480.0 705.0C2474.3 708.3 2462.2 711.9 2457.0 715.0C2451.8 718.1 2447.3 722.9 2441.0 728.0C2434.7 733.1 2415.7 746.7 2410.0 753.0C2404.3 759.3 2400.1 767.9 2398.0 775.0C2395.9 782.1 2398.8 802.7 2394.0 806.0C2389.2 809.3 2373.9 802.4 2362.0 800.0C2350.1 797.6 2317.7 791.3 2305.0 788.0C2292.3 784.7 2276.3 778.9 2267.0 775.0C2257.7 771.1 2243.9 762.1 2235.0 759.0C2226.1 755.9 2211.3 753.2 2200.0 752.0C2188.7 750.8 2156.7 758.3 2150.0 750.0C2143.3 741.7 2103.3 698.0 2150.0 690.0Z" fill="#030303" filter="url(#sblur1)"/>
</g>
<g clip-path="url(#c2)">
<rect x="2155" y="1540" width="446" height="446" fill="url(#mesh)"/>
<rect x="2155" y="1540" width="446" height="446" filter="url(#semN3)" opacity="0.22"/>
<clipPath id="massClip"><path d="M2171.7 1774.0C2170.1 1752.8 2192.9 1731.7 2203.5 1710.5C2214.1 1689.3 2220.2 1665.6 2235.0 1647.0C2249.8 1628.4 2274.0 1609.6 2292.0 1599.0C2310.0 1588.4 2331.3 1590.8 2343.0 1583.5C2354.7 1576.2 2350.8 1561.1 2362.0 1555.0C2373.2 1548.9 2389.8 1544.9 2410.0 1547.0C2430.2 1549.1 2468.2 1556.3 2483.0 1567.6C2497.8 1578.9 2490.8 1597.6 2498.7 1615.0C2506.6 1632.4 2522.6 1650.8 2530.5 1672.0C2538.4 1693.2 2540.2 1719.7 2546.0 1742.0C2551.8 1764.3 2563.9 1784.5 2565.0 1805.7C2566.1 1826.9 2561.1 1850.5 2552.7 1869.0C2544.3 1887.5 2525.2 1903.7 2514.6 1917.0C2504.0 1930.3 2509.1 1939.6 2489.0 1948.6C2468.9 1957.6 2420.4 1968.2 2394.0 1970.8C2367.6 1973.4 2351.7 1970.8 2330.5 1964.4C2309.3 1958.1 2280.2 1948.6 2267.0 1932.7C2253.8 1916.8 2260.0 1884.9 2251.0 1869.0C2242.0 1853.1 2226.2 1853.3 2213.0 1837.5C2199.8 1821.7 2173.3 1795.2 2171.7 1774.0Z"/></clipPath>
<path d="M2171.7 1774.0C2170.1 1752.8 2192.9 1731.7 2203.5 1710.5C2214.1 1689.3 2220.2 1665.6 2235.0 1647.0C2249.8 1628.4 2274.0 1609.6 2292.0 1599.0C2310.0 1588.4 2331.3 1590.8 2343.0 1583.5C2354.7 1576.2 2350.8 1561.1 2362.0 1555.0C2373.2 1548.9 2389.8 1544.9 2410.0 1547.0C2430.2 1549.1 2468.2 1556.3 2483.0 1567.6C2497.8 1578.9 2490.8 1597.6 2498.7 1615.0C2506.6 1632.4 2522.6 1650.8 2530.5 1672.0C2538.4 1693.2 2540.2 1719.7 2546.0 1742.0C2551.8 1764.3 2563.9 1784.5 2565.0 1805.7C2566.1 1826.9 2561.1 1850.5 2552.7 1869.0C2544.3 1887.5 2525.2 1903.7 2514.6 1917.0C2504.0 1930.3 2509.1 1939.6 2489.0 1948.6C2468.9 1957.6 2420.4 1968.2 2394.0 1970.8C2367.6 1973.4 2351.7 1970.8 2330.5 1964.4C2309.3 1958.1 2280.2 1948.6 2267.0 1932.7C2253.8 1916.8 2260.0 1884.9 2251.0 1869.0C2242.0 1853.1 2226.2 1853.3 2213.0 1837.5C2199.8 1821.7 2173.3 1795.2 2171.7 1774.0Z" fill="#222" opacity="0.6" filter="url(#sblur)" transform="translate(4,6)"/>
<g clip-path="url(#massClip)"><g filter="url(#relief2)">
<rect x="2150" y="1535" width="460" height="460" fill="#fff" fill-opacity="0.2"/>
<circle cx="2273" cy="1679" r="50" fill="url(#dome)"/>
<circle cx="2219" cy="1790" r="53" fill="url(#dome)"/>
<circle cx="2362" cy="1917" r="58" fill="url(#dome)"/>
<circle cx="2457" cy="1901" r="50" fill="url(#dome)"/>
<circle cx="2318" cy="1831" r="64" fill="url(#dome)"/>
<circle cx="2419" cy="1837" r="52" fill="url(#dome)"/>
<circle cx="2521" cy="1815" r="37" fill="url(#dome)"/>
<circle cx="2346" cy="1736" r="55" fill="url(#dome)"/>
<circle cx="2470" cy="1761" r="42" fill="url(#dome)"/>
<circle cx="2489" cy="1663" r="27" fill="url(#dome)"/>
<circle cx="2426" cy="1710" r="30" fill="url(#dome)"/>
<circle cx="2381" cy="1583" r="34" fill="url(#dome)"/>
<circle cx="2457" cy="1602" r="41" fill="url(#dome)"/>
<circle cx="2394" cy="1641" r="39" fill="url(#dome)"/>
<circle cx="2530" cy="1879" r="22" fill="url(#dome)"/>
<circle cx="2300" cy="1625" r="30" fill="url(#dome)"/>
<circle cx="2250" cy="1880" r="30" fill="url(#dome)"/>
<circle cx="2520" cy="1730" r="26" fill="url(#dome)"/>
</g></g>
</g>
<!--/SEM-->
<!--PLATE-->
<defs><filter id="pblur" x="-5%" y="-5%" width="110%" height="110%"><feGaussianBlur stdDeviation="2.1"/></filter><filter id="pblur2" x="-10%" y="-10%" width="120%" height="130%"><feGaussianBlur stdDeviation="6"/></filter></defs>
<g filter="url(#pblur)">
<polygon points="2745.0,1364.0 3136.0,1505.0 3165.0,1490.0 3215.0,1350.0 2800.0,1320.0" fill="#BFC3C6" opacity="0.6" filter="url(#pblur2)"/>
<polygon points="2702.0,1292.0 2744.0,1286.0 2740.0,1345.0 2706.0,1342.0" fill="#EAE6EC" opacity="0.55"/>
<path d="M2703 1290L2742 1252" stroke="#E6E2E8" stroke-width="2.5" fill="none" opacity="0.7"/>
<polygon points="3146.0,1424.0 3224.0,1255.0 3233.0,1259.0 3231.0,1276.0 3147.0,1498.0 3136.0,1497.0" fill="#F3EDF0" stroke="#E3DADD" stroke-width="2"/>
<polygon points="2741.9,1288.0 3146.0,1424.0 3143.5,1442.2 2738.9,1305.2" fill="#FBF1F3"/>
<polygon points="2738.9,1305.2 3143.5,1442.2 3140.2,1466.3 2735.0,1328.0" fill="#F27FA2"/>
<polygon points="2735.0,1328.0 3140.2,1466.3 3139.0,1475.1 2733.6,1336.3" fill="#F5A9BC"/>
<polygon points="2733.6,1336.3 3139.0,1475.1 3136.4,1494.1 2730.5,1354.2" fill="#F3BEC6"/>
<polygon points="2730.5,1354.2 3136.4,1494.1 3136.0,1497.0 2730.0,1357.0" fill="#E9C9CE"/>
<polygon points="2741.9,1288.0 2832.4,1170.2 3224.0,1255.0 3146.0,1424.0" fill="#FBE6EC" stroke="#F6E6EA" stroke-width="2"/>
<g fill="#E73F82"><ellipse cx="2784.0" cy="1293.6" rx="14.2" ry="9.8" fill-opacity="1.00"/><ellipse cx="2795.3" cy="1278.9" rx="14.0" ry="9.6" fill-opacity="0.99"/><ellipse cx="2806.6" cy="1264.2" rx="13.7" ry="9.5" fill-opacity="0.96"/><ellipse cx="2817.9" cy="1249.5" rx="13.5" ry="9.3" fill-opacity="0.91"/><ellipse cx="2829.1" cy="1234.8" rx="13.2" ry="9.1" fill-opacity="0.84"/><ellipse cx="2840.4" cy="1220.1" rx="13.0" ry="9.0" fill-opacity="0.74"/><ellipse cx="2851.7" cy="1205.4" rx="12.7" ry="8.8" fill-opacity="0.63"/><ellipse cx="2863.0" cy="1190.7" rx="12.5" ry="8.6" fill-opacity="0.50"/><ellipse cx="2815.8" cy="1303.4" rx="14.2" ry="9.8" fill-opacity="1.00"/><ellipse cx="2826.9" cy="1288.2" rx="14.0" ry="9.6" fill-opacity="0.99"/><ellipse cx="2837.9" cy="1273.0" rx="13.7" ry="9.5" fill-opacity="0.96"/><ellipse cx="2848.9" cy="1257.8" rx="13.5" ry="9.3" fill-opacity="0.91"/><ellipse cx="2860.0" cy="1242.6" rx="13.2" ry="9.1" fill-opacity="0.84"/><ellipse cx="2871.0" cy="1227.5" rx="13.0" ry="9.0" fill-opacity="0.74"/><ellipse cx="2882.1" cy="1212.3" rx="12.7" ry="8.8" fill-opacity="0.63"/><ellipse cx="2893.1" cy="1197.1" rx="12.5" ry="8.6" fill-opacity="0.50"/><ellipse cx="2847.6" cy="1313.1" rx="14.2" ry="9.8" fill-opacity="1.00"/><ellipse cx="2858.4" cy="1297.5" rx="14.0" ry="9.6" fill-opacity="0.99"/><ellipse cx="2869.2" cy="1281.8" rx="13.7" ry="9.5" fill-opacity="0.96"/><ellipse cx="2880.0" cy="1266.1" rx="13.5" ry="9.3" fill-opacity="0.91"/><ellipse cx="2890.8" cy="1250.5" rx="13.2" ry="9.1" fill-opacity="0.84"/><ellipse cx="2901.6" cy="1234.8" rx="13.0" ry="9.0" fill-opacity="0.74"/><ellipse cx="2912.4" cy="1219.1" rx="12.7" ry="8.8" fill-opacity="0.63"/><ellipse cx="2923.2" cy="1203.5" rx="12.5" ry="8.6" fill-opacity="0.50"/><ellipse cx="2879.5" cy="1322.9" rx="14.2" ry="9.8" fill-opacity="1.00"/><ellipse cx="2890.0" cy="1306.7" rx="14.0" ry="9.6" fill-opacity="0.99"/><ellipse cx="2900.5" cy="1290.6" rx="13.7" ry="9.5" fill-opacity="0.96"/><ellipse cx="2911.1" cy="1274.5" rx="13.5" ry="9.3" fill-opacity="0.91"/><ellipse cx="2921.6" cy="1258.3" rx="13.2" ry="9.1" fill-opacity="0.84"/><ellipse cx="2932.2" cy="1242.2" rx="13.0" ry="9.0" fill-opacity="0.74"/><ellipse cx="2942.7" cy="1226.0" rx="12.7" ry="8.8" fill-opacity="0.63"/><ellipse cx="2953.3" cy="1209.9" rx="12.5" ry="8.6" fill-opacity="0.50"/><ellipse cx="2911.3" cy="1332.7" rx="14.2" ry="9.8" fill-opacity="1.00"/><ellipse cx="2921.6" cy="1316.0" rx="14.0" ry="9.6" fill-opacity="0.99"/><ellipse cx="2931.9" cy="1299.4" rx="13.7" ry="9.5" fill-opacity="0.96"/><ellipse cx="2942.2" cy="1282.8" rx="13.5" ry="9.3" fill-opacity="0.91"/><ellipse cx="2952.5" cy="1266.1" rx="13.2" ry="9.1" fill-opacity="0.84"/><ellipse cx="2962.8" cy="1249.5" rx="13.0" ry="9.0" fill-opacity="0.74"/><ellipse cx="2973.1" cy="1232.9" rx="12.7" ry="8.8" fill-opacity="0.63"/><ellipse cx="2983.4" cy="1216.3" rx="12.5" ry="8.6" fill-opacity="0.50"/><ellipse cx="2943.1" cy="1342.4" rx="14.2" ry="9.8" fill-opacity="1.00"/><ellipse cx="2953.1" cy="1325.3" rx="14.0" ry="9.6" fill-opacity="0.99"/><ellipse cx="2963.2" cy="1308.2" rx="13.7" ry="9.5" fill-opacity="0.96"/><ellipse cx="2973.2" cy="1291.1" rx="13.5" ry="9.3" fill-opacity="0.91"/><ellipse cx="2983.3" cy="1274.0" rx="13.2" ry="9.1" fill-opacity="0.84"/><ellipse cx="2993.4" cy="1256.9" rx="13.0" ry="9.0" fill-opacity="0.74"/><ellipse cx="3003.4" cy="1239.8" rx="12.7" ry="8.8" fill-opacity="0.63"/><ellipse cx="3013.5" cy="1222.7" rx="12.5" ry="8.6" fill-opacity="0.50"/><ellipse cx="2974.9" cy="1352.2" rx="14.2" ry="9.8" fill-opacity="1.00"/><ellipse cx="2984.7" cy="1334.6" rx="14.0" ry="9.6" fill-opacity="0.99"/><ellipse cx="2994.5" cy="1317.0" rx="13.7" ry="9.5" fill-opacity="0.96"/><ellipse cx="3004.3" cy="1299.4" rx="13.5" ry="9.3" fill-opacity="0.91"/><ellipse cx="3014.1" cy="1281.8" rx="13.2" ry="9.1" fill-opacity="0.84"/><ellipse cx="3023.9" cy="1264.2" rx="13.0" ry="9.0" fill-opacity="0.74"/><ellipse cx="3033.7" cy="1246.6" rx="12.7" ry="8.8" fill-opacity="0.63"/><ellipse cx="3043.5" cy="1229.0" rx="12.5" ry="8.6" fill-opacity="0.50"/><ellipse cx="3006.7" cy="1361.9" rx="14.2" ry="9.8" fill-opacity="1.00"/><ellipse cx="3016.3" cy="1343.9" rx="14.0" ry="9.6" fill-opacity="0.99"/><ellipse cx="3025.8" cy="1325.8" rx="13.7" ry="9.5" fill-opacity="0.96"/><ellipse cx="3035.4" cy="1307.7" rx="13.5" ry="9.3" fill-opacity="0.91"/><ellipse cx="3045.0" cy="1289.7" rx="13.2" ry="9.1" fill-opacity="0.84"/><ellipse cx="3054.5" cy="1271.6" rx="13.0" ry="9.0" fill-opacity="0.74"/><ellipse cx="3064.1" cy="1253.5" rx="12.7" ry="8.8" fill-opacity="0.63"/><ellipse cx="3073.6" cy="1235.4" rx="12.5" ry="8.6" fill-opacity="0.50"/><ellipse cx="3038.5" cy="1371.7" rx="14.2" ry="9.8" fill-opacity="1.00"/><ellipse cx="3047.9" cy="1353.2" rx="14.0" ry="9.6" fill-opacity="0.99"/><ellipse cx="3057.2" cy="1334.6" rx="13.7" ry="9.5" fill-opacity="0.96"/><ellipse cx="3066.5" cy="1316.0" rx="13.5" ry="9.3" fill-opacity="0.91"/><ellipse cx="3075.8" cy="1297.5" rx="13.2" ry="9.1" fill-opacity="0.84"/><ellipse cx="3085.1" cy="1278.9" rx="13.0" ry="9.0" fill-opacity="0.74"/><ellipse cx="3094.4" cy="1260.4" rx="12.7" ry="8.8" fill-opacity="0.63"/><ellipse cx="3103.7" cy="1241.8" rx="12.5" ry="8.6" fill-opacity="0.50"/><ellipse cx="3070.4" cy="1381.5" rx="14.2" ry="9.8" fill-opacity="1.00"/><ellipse cx="3079.4" cy="1362.4" rx="14.0" ry="9.6" fill-opacity="0.99"/><ellipse cx="3088.5" cy="1343.4" rx="13.7" ry="9.5" fill-opacity="0.96"/><ellipse cx="3097.6" cy="1324.4" rx="13.5" ry="9.3" fill-opacity="0.91"/><ellipse cx="3106.6" cy="1305.3" rx="13.2" ry="9.1" fill-opacity="0.84"/><ellipse cx="3115.7" cy="1286.3" rx="13.0" ry="9.0" fill-opacity="0.74"/><ellipse cx="3124.8" cy="1267.3" rx="12.7" ry="8.8" fill-opacity="0.63"/><ellipse cx="3133.8" cy="1248.2" rx="12.5" ry="8.6" fill-opacity="0.50"/><ellipse cx="3102.2" cy="1391.2" rx="14.2" ry="9.8" fill-opacity="1.00"/><ellipse cx="3111.0" cy="1371.7" rx="14.0" ry="9.6" fill-opacity="0.99"/><ellipse cx="3119.8" cy="1352.2" rx="13.7" ry="9.5" fill-opacity="0.96"/><ellipse cx="3128.6" cy="1332.7" rx="13.5" ry="9.3" fill-opacity="0.91"/><ellipse cx="3137.5" cy="1313.2" rx="13.2" ry="9.1" fill-opacity="0.84"/><ellipse cx="3146.3" cy="1293.6" rx="13.0" ry="9.0" fill-opacity="0.74"/><ellipse cx="3155.1" cy="1274.1" rx="12.7" ry="8.8" fill-opacity="0.63"/><ellipse cx="3163.9" cy="1254.6" rx="12.5" ry="8.6" fill-opacity="0.50"/><ellipse cx="3134.0" cy="1401.0" rx="14.2" ry="9.8" fill-opacity="1.00"/><ellipse cx="3142.6" cy="1381.0" rx="14.0" ry="9.6" fill-opacity="0.99"/><ellipse cx="3151.1" cy="1361.0" rx="13.7" ry="9.5" fill-opacity="0.96"/><ellipse cx="3159.7" cy="1341.0" rx="13.5" ry="9.3" fill-opacity="0.91"/><ellipse cx="3168.3" cy="1321.0" rx="13.2" ry="9.1" fill-opacity="0.84"/><ellipse cx="3176.9" cy="1301.0" rx="13.0" ry="9.0" fill-opacity="0.74"/><ellipse cx="3185.4" cy="1281.0" rx="12.7" ry="8.8" fill-opacity="0.63"/><ellipse cx="3194.0" cy="1261.0" rx="12.5" ry="8.6" fill-opacity="0.50"/></g>
<g fill="#FFF7FA" opacity="0.95"><ellipse cx="2793.5" cy="1286.4" rx="6.8" ry="4.4"/><ellipse cx="2804.6" cy="1271.8" rx="6.7" ry="4.3"/><ellipse cx="2815.7" cy="1257.2" rx="6.6" ry="4.2"/><ellipse cx="2826.9" cy="1242.7" rx="6.5" ry="4.2"/><ellipse cx="2838.0" cy="1228.1" rx="6.3" ry="4.1"/><ellipse cx="2849.1" cy="1213.5" rx="6.2" ry="4.0"/><ellipse cx="2860.2" cy="1198.9" rx="6.1" ry="3.9"/><ellipse cx="2871.4" cy="1184.4" rx="6.0" ry="3.9"/><ellipse cx="2825.3" cy="1296.2" rx="6.8" ry="4.4"/><ellipse cx="2836.2" cy="1281.1" rx="6.7" ry="4.3"/><ellipse cx="2847.1" cy="1266.0" rx="6.6" ry="4.2"/><ellipse cx="2857.9" cy="1251.0" rx="6.5" ry="4.2"/><ellipse cx="2868.8" cy="1235.9" rx="6.3" ry="4.1"/><ellipse cx="2879.7" cy="1220.9" rx="6.2" ry="4.0"/><ellipse cx="2890.6" cy="1205.8" rx="6.1" ry="3.9"/><ellipse cx="2901.5" cy="1190.8" rx="6.0" ry="3.9"/><ellipse cx="2857.1" cy="1305.9" rx="6.8" ry="4.4"/><ellipse cx="2867.8" cy="1290.4" rx="6.7" ry="4.3"/><ellipse cx="2878.4" cy="1274.8" rx="6.6" ry="4.2"/><ellipse cx="2889.0" cy="1259.3" rx="6.5" ry="4.2"/><ellipse cx="2899.7" cy="1243.8" rx="6.3" ry="4.1"/><ellipse cx="2910.3" cy="1228.2" rx="6.2" ry="4.0"/><ellipse cx="2920.9" cy="1212.7" rx="6.1" ry="3.9"/><ellipse cx="2931.5" cy="1197.1" rx="6.0" ry="3.9"/><ellipse cx="2889.0" cy="1315.7" rx="6.8" ry="4.4"/><ellipse cx="2899.3" cy="1299.7" rx="6.7" ry="4.3"/><ellipse cx="2909.7" cy="1283.6" rx="6.6" ry="4.2"/><ellipse cx="2920.1" cy="1267.6" rx="6.5" ry="4.2"/><ellipse cx="2930.5" cy="1251.6" rx="6.3" ry="4.1"/><ellipse cx="2940.9" cy="1235.6" rx="6.2" ry="4.0"/><ellipse cx="2951.3" cy="1219.6" rx="6.1" ry="3.9"/><ellipse cx="2961.6" cy="1203.5" rx="6.0" ry="3.9"/><ellipse cx="2920.8" cy="1325.5" rx="6.8" ry="4.4"/><ellipse cx="2930.9" cy="1309.0" rx="6.7" ry="4.3"/><ellipse cx="2941.0" cy="1292.4" rx="6.6" ry="4.2"/><ellipse cx="2951.2" cy="1275.9" rx="6.5" ry="4.2"/><ellipse cx="2961.3" cy="1259.4" rx="6.3" ry="4.1"/><ellipse cx="2971.5" cy="1242.9" rx="6.2" ry="4.0"/><ellipse cx="2981.6" cy="1226.4" rx="6.1" ry="3.9"/><ellipse cx="2991.7" cy="1209.9" rx="6.0" ry="3.9"/><ellipse cx="2952.6" cy="1335.2" rx="6.8" ry="4.4"/><ellipse cx="2962.5" cy="1318.2" rx="6.7" ry="4.3"/><ellipse cx="2972.4" cy="1301.2" rx="6.6" ry="4.2"/><ellipse cx="2982.3" cy="1284.3" rx="6.5" ry="4.2"/><ellipse cx="2992.1" cy="1267.3" rx="6.3" ry="4.1"/><ellipse cx="3002.0" cy="1250.3" rx="6.2" ry="4.0"/><ellipse cx="3011.9" cy="1233.3" rx="6.1" ry="3.9"/><ellipse cx="3021.8" cy="1216.3" rx="6.0" ry="3.9"/><ellipse cx="2984.4" cy="1345.0" rx="6.8" ry="4.4"/><ellipse cx="2994.1" cy="1327.5" rx="6.7" ry="4.3"/><ellipse cx="3003.7" cy="1310.0" rx="6.6" ry="4.2"/><ellipse cx="3013.3" cy="1292.6" rx="6.5" ry="4.2"/><ellipse cx="3023.0" cy="1275.1" rx="6.3" ry="4.1"/><ellipse cx="3032.6" cy="1257.6" rx="6.2" ry="4.0"/><ellipse cx="3042.3" cy="1240.2" rx="6.1" ry="3.9"/><ellipse cx="3051.9" cy="1222.7" rx="6.0" ry="3.9"/><ellipse cx="3016.2" cy="1354.7" rx="6.8" ry="4.4"/><ellipse cx="3025.6" cy="1336.8" rx="6.7" ry="4.3"/><ellipse cx="3035.0" cy="1318.8" rx="6.6" ry="4.2"/><ellipse cx="3044.4" cy="1300.9" rx="6.5" ry="4.2"/><ellipse cx="3053.8" cy="1282.9" rx="6.3" ry="4.1"/><ellipse cx="3063.2" cy="1265.0" rx="6.2" ry="4.0"/><ellipse cx="3072.6" cy="1247.0" rx="6.1" ry="3.9"/><ellipse cx="3082.0" cy="1229.1" rx="6.0" ry="3.9"/><ellipse cx="3048.0" cy="1364.5" rx="6.8" ry="4.4"/><ellipse cx="3057.2" cy="1346.1" rx="6.7" ry="4.3"/><ellipse cx="3066.3" cy="1327.6" rx="6.6" ry="4.2"/><ellipse cx="3075.5" cy="1309.2" rx="6.5" ry="4.2"/><ellipse cx="3084.6" cy="1290.8" rx="6.3" ry="4.1"/><ellipse cx="3093.8" cy="1272.4" rx="6.2" ry="4.0"/><ellipse cx="3102.9" cy="1253.9" rx="6.1" ry="3.9"/><ellipse cx="3112.1" cy="1235.5" rx="6.0" ry="3.9"/><ellipse cx="3079.9" cy="1374.3" rx="6.8" ry="4.4"/><ellipse cx="3088.8" cy="1355.4" rx="6.7" ry="4.3"/><ellipse cx="3097.7" cy="1336.4" rx="6.6" ry="4.2"/><ellipse cx="3106.6" cy="1317.5" rx="6.5" ry="4.2"/><ellipse cx="3115.5" cy="1298.6" rx="6.3" ry="4.1"/><ellipse cx="3124.4" cy="1279.7" rx="6.2" ry="4.0"/><ellipse cx="3133.3" cy="1260.8" rx="6.1" ry="3.9"/><ellipse cx="3142.2" cy="1241.9" rx="6.0" ry="3.9"/><ellipse cx="3111.7" cy="1384.0" rx="6.8" ry="4.4"/><ellipse cx="3120.3" cy="1364.6" rx="6.7" ry="4.3"/><ellipse cx="3129.0" cy="1345.2" rx="6.6" ry="4.2"/><ellipse cx="3137.6" cy="1325.9" rx="6.5" ry="4.2"/><ellipse cx="3146.3" cy="1306.5" rx="6.3" ry="4.1"/><ellipse cx="3155.0" cy="1287.1" rx="6.2" ry="4.0"/><ellipse cx="3163.6" cy="1267.7" rx="6.1" ry="3.9"/><ellipse cx="3172.3" cy="1248.3" rx="6.0" ry="3.9"/><ellipse cx="3143.5" cy="1393.8" rx="6.8" ry="4.4"/><ellipse cx="3151.9" cy="1373.9" rx="6.7" ry="4.3"/><ellipse cx="3160.3" cy="1354.0" rx="6.6" ry="4.2"/><ellipse cx="3168.7" cy="1334.2" rx="6.5" ry="4.2"/><ellipse cx="3177.1" cy="1314.3" rx="6.3" ry="4.1"/><ellipse cx="3185.5" cy="1294.4" rx="6.2" ry="4.0"/><ellipse cx="3194.0" cy="1274.5" rx="6.1" ry="3.9"/><ellipse cx="3202.4" cy="1254.7" rx="6.0" ry="3.9"/></g>
</g>
<!--/PLATE-->

<!-- purple arrow -->
<rect x="1847" y="369" width="30" height="750" fill="#7933C5"/>
<polygon points="1831,1115 1893,1115 1862,1169" fill="#7933C5"/>

<!-- green line -->
<path d="M1862 1544 V2360 H3444" fill="none" stroke="#70AD47" stroke-width="30.5"/>

<!-- navy dashes and arrows -->
<g class="n">
  <rect x="2951" y="566" width="7.5" height="57"/>
  <rect x="2951" y="841" width="7.5" height="56"/>
  <rect x="2951" y="1117" width="7.5" height="85"/>
  <polygon points="2931,1198 2978,1198 2954.5,1239"/>
  <polygon points="2931,1411 2978,1411 2954.5,1372"/>
  <rect x="2951" y="1408" width="7.5" height="86"/>
  <rect x="2951" y="1706" width="7.5" height="57"/>
  <rect x="2951" y="1974" width="7.5" height="57"/>
</g>

<!-- circles -->
<ellipse cx="3989" cy="246" rx="252.5" ry="247.5" fill="#C73934"/>
<ellipse cx="3989" cy="949.5" rx="252.5" ry="239" fill="#7933C5"/>
<ellipse cx="3989" cy="1652.5" rx="252.5" ry="245.5" fill="#3FA2C8"/>
<ellipse cx="3989" cy="2358" rx="252.5" ry="250" fill="#70AD47"/>

<!--TEXT-->
<g id="text">
<text class="h" transform="translate(174,228) scale(1,1.035)">Patient</text>
<text class="h" transform="translate(1378,228) scale(1,1.035)">Cell Engineering</text>
<text class="h" transform="translate(2657,234) scale(1,1.035)">Treatment</text>
<text class="h" transform="translate(2382,1306) scale(1,1.02)" text-anchor="middle" style="font-size:121px">3D</text>
<text class="h" transform="translate(2383,1428.5) scale(1,1.02)" text-anchor="middle" style="font-size:121px">Culture</text>

<!--LABELS-->
<text class="l" text-anchor="middle" transform="translate(1861.2,330.0) scale(0.9718,1)">CRISPR Transfection</text>
<text class="l" text-anchor="middle" transform="translate(894.0,341.0) scale(0.9293,1)">iPS</text>
<text class="l" text-anchor="middle" transform="translate(893.0,425.0) scale(0.9932,1)">Cells</text>
<text class="l" text-anchor="middle" transform="translate(929.2,804.5) scale(1.0023,1)">Dermal</text>
<text class="l" text-anchor="middle" transform="translate(929.2,888.0) scale(1.0045,1)">Fibroblasts</text>
<text class="l" text-anchor="middle" transform="translate(1523.5,639.0) scale(1.0075,1)">Differentiated</text>
<text class="l" text-anchor="middle" transform="translate(1523.5,723.0) scale(0.9636,1)">iPS Cells</text>
<text class="l" text-anchor="middle" transform="translate(766.2,1427.0) scale(0.9872,1)">Tumor</text>
<text class="l" text-anchor="middle" transform="translate(769.2,1511.0) scale(1.0074,1)">Biopsy</text>
<text class="l" text-anchor="middle" transform="translate(1121.2,2201.0) scale(1.0071,1)">Established</text>
<text class="l" text-anchor="middle" transform="translate(1120.8,2285.5) scale(0.9892,1)">Common Cell Lines</text>
<text class="l" text-anchor="middle" transform="translate(2382.3,586.5) scale(1.0306,1)">Scaffold</text>
<text class="l" text-anchor="middle" transform="translate(2382.3,671.0) scale(1.0028,1)">Cultures</text>
<text class="l" text-anchor="middle" transform="translate(2382.5,2071.0) scale(1.0210,1)">Microspheroid</text>
<text class="l" text-anchor="middle" transform="translate(2381.8,2155.5) scale(0.9941,1)">Cultures</text>
<text class="l" text-anchor="middle" transform="translate(2952.0,369.0) scale(1.0143,1)">Knockdown</text>
<text class="l" text-anchor="middle" transform="translate(2951.0,452.5) scale(1.0114,1)">a protein</text>
<text class="l" text-anchor="middle" transform="translate(2952.8,537.5) scale(0.9936,1)">(siRNA)</text>
<text class="l" text-anchor="middle" transform="translate(2951.0,720.0) scale(0.9899,1)">Treat with</text>
<text class="l" text-anchor="middle" transform="translate(2951.0,803.5) scale(1.0114,1)">a protein</text>
<text class="l" text-anchor="middle" transform="translate(2951.8,992.0) scale(0.9938,1)">Express</text>
<text class="l" text-anchor="middle" transform="translate(2951.0,1076.0) scale(1.0114,1)">a protein</text>
<text class="l" text-anchor="middle" transform="translate(2950.0,1587.5) scale(0.9832,1)">Treat with</text>
<text class="l" text-anchor="middle" transform="translate(2951.5,1671.5) scale(0.9744,1)">an miRNA</text>
<text class="l" text-anchor="middle" transform="translate(2952.0,1852.5) scale(0.9893,1)">Small molecule</text>
<text class="l" text-anchor="middle" transform="translate(2952.5,1937.5) scale(1.0074,1)">inhibitors</text>
<text class="l" text-anchor="middle" transform="translate(2951.8,2107.5) scale(1.0101,1)">Physical</text>
<text class="l" text-anchor="middle" transform="translate(2951.7,2193.0) scale(1.0265,1)">challenge</text>
<text class="l" text-anchor="middle" transform="translate(2951.8,2277.0) scale(1.0199,1)">(e.g., hypoxia)</text>
<text class="c" text-anchor="middle" transform="translate(3987.5,171.0) scale(1.0074,1)">Cell</text>
<text class="c" text-anchor="middle" transform="translate(3989.2,262.5) scale(1.0021,1)">Health</text>
<text class="c" text-anchor="middle" transform="translate(3989.0,355.0) scale(0.9940,1)">Changes</text>
<text class="c" text-anchor="middle" transform="translate(3990.0,934.5) scale(0.9944,1)">Metabolic</text>
<text class="c" text-anchor="middle" transform="translate(3989.0,1026.0) scale(0.9940,1)">Changes</text>
<text class="c" text-anchor="middle" transform="translate(3989.3,1637.0) scale(1.0064,1)">Expression</text>
<text class="c" text-anchor="middle" transform="translate(3989.0,1729.0) scale(0.9940,1)">Changes</text>
<text class="c" text-anchor="middle" transform="translate(3988.8,2324.0) scale(0.9984,1)">Genome</text>
<text class="c" text-anchor="middle" transform="translate(3988.8,2415.5) scale(0.9824,1)">Analysis</text>
<!--/LABELS-->

<text class="b" transform="translate(1954,2487) scale(1,1.035)">Could occur before and/or after treatment</text>
</g>
<!--/TEXT-->
</svg>
</body>
</html>
